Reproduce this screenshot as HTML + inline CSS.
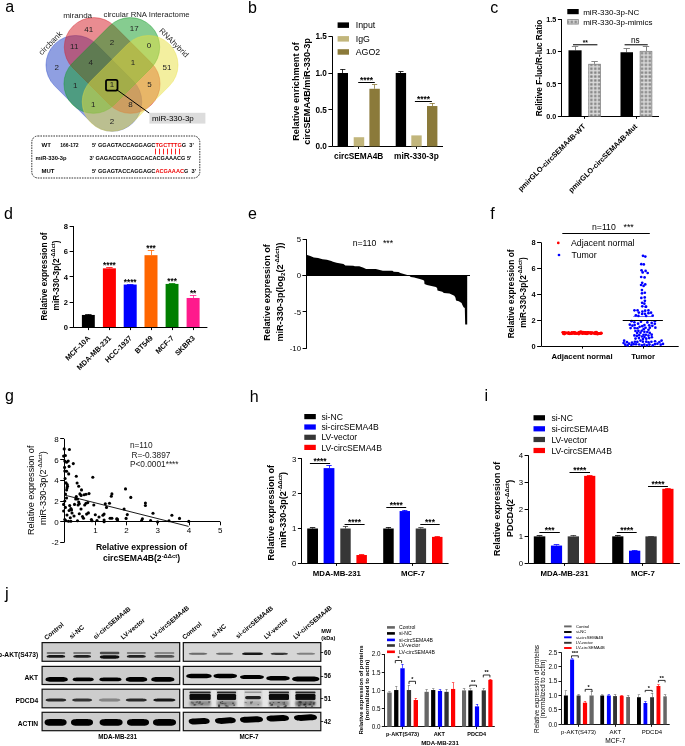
<!DOCTYPE html>
<html><head><meta charset="utf-8"><style>
html,body{margin:0;padding:0;background:#fff;}
svg{display:block;font-family:"Liberation Sans", sans-serif;filter:blur(0.35px);}
</style></head><body>
<svg width="685" height="746" viewBox="0 0 685 746" font-family='"Liberation Sans", sans-serif'>
<defs>
<pattern id="hatch" width="3.9" height="3.9" patternUnits="userSpaceOnUse"><rect width="3.9" height="3.9" fill="#dcdcdc"/><rect x="1.3" y="1.3" width="2.3" height="2.3" fill="#7a7a7a"/></pattern>
<filter id="b1" x="-20%" y="-100%" width="140%" height="300%"><feGaussianBlur stdDeviation="0.65"/></filter>
<filter id="b2" x="-20%" y="-100%" width="140%" height="300%"><feGaussianBlur stdDeviation="1.0"/></filter>
</defs>
<rect width="685" height="746" fill="#fff"/>
<text x="5.30" y="12.30" font-size="16" text-anchor="start" fill="#000">a</text>
<rect x="38.38" y="53.88" width="111.00" height="59.00" rx="29.5" ry="29.5" fill="#1f3fc4" fill-opacity="0.5" stroke="#1f3fc4" stroke-opacity="0.55" stroke-width="0.7" transform="rotate(45 93.88 83.38)"/>
<rect x="56.68" y="35.98" width="111.00" height="59.00" rx="29.5" ry="29.5" fill="#d41a24" fill-opacity="0.5" stroke="#d41a24" stroke-opacity="0.55" stroke-width="0.7" transform="rotate(45 112.18 65.48)"/>
<rect x="56.32" y="35.98" width="111.00" height="59.00" rx="29.5" ry="29.5" fill="#0d9a22" fill-opacity="0.5" stroke="#0d9a22" stroke-opacity="0.55" stroke-width="0.7" transform="rotate(135 111.82 65.48)"/>
<rect x="74.62" y="53.88" width="111.00" height="59.00" rx="29.5" ry="29.5" fill="#e8e040" fill-opacity="0.5" stroke="#e8e040" stroke-opacity="0.55" stroke-width="0.7" transform="rotate(135 130.12 83.38)"/>
<text x="88.80" y="31.50" font-size="8" text-anchor="middle" fill="#222">41</text>
<text x="134.20" y="30.70" font-size="8" text-anchor="middle" fill="#222">17</text>
<text x="74.20" y="48.80" font-size="8" text-anchor="middle" fill="#222">11</text>
<text x="111.90" y="44.90" font-size="8" text-anchor="middle" fill="#222">2</text>
<text x="149.10" y="47.60" font-size="8" text-anchor="middle" fill="#222">0</text>
<text x="56.80" y="69.70" font-size="8" text-anchor="middle" fill="#222">2</text>
<text x="90.80" y="65.00" font-size="8" text-anchor="middle" fill="#222">4</text>
<text x="133.00" y="65.00" font-size="8" text-anchor="middle" fill="#222">1</text>
<text x="167.00" y="69.70" font-size="8" text-anchor="middle" fill="#222">51</text>
<text x="75.20" y="87.80" font-size="8" text-anchor="middle" fill="#222">1</text>
<text x="111.90" y="86.50" font-size="8" text-anchor="middle" fill="#222">1</text>
<text x="149.60" y="86.50" font-size="8" text-anchor="middle" fill="#222">5</text>
<text x="93.30" y="106.90" font-size="8" text-anchor="middle" fill="#222">1</text>
<text x="130.50" y="106.90" font-size="8" text-anchor="middle" fill="#222">8</text>
<text x="111.90" y="124.30" font-size="8" text-anchor="middle" fill="#222">2</text>
<rect x="106" y="79.8" width="11.5" height="10.8" rx="1.6" fill="none" stroke="#000" stroke-width="1.8"/>
<line x1="116.50" y1="89.50" x2="149.40" y2="113.20" stroke="#000" stroke-width="1.0"/>
<rect x="149.40" y="112.80" width="56.00" height="10.80" fill="#dcdcdc"/>
<text x="152.00" y="121.20" font-size="8" text-anchor="start" fill="#000">miR-330-3p</text>
<text x="77.60" y="17.80" font-size="8" text-anchor="middle" fill="#222">miranda</text>
<text x="146.60" y="17.40" font-size="7.75" text-anchor="middle" fill="#222">circular RNA Interactome</text>
<text x="52.20" y="45.00" font-size="8" text-anchor="middle" fill="#222" transform="rotate(-45 52.20 45.00)">circbank</text>
<text x="172.20" y="44.60" font-size="7.8" text-anchor="middle" fill="#222" transform="rotate(45 172.20 44.60)">RNAhybrid</text>
<rect x="31.8" y="136" width="168" height="42" rx="6" fill="none" stroke="#000" stroke-width="0.8" stroke-dasharray="1.6,1.0"/>
<text x="41.50" y="146.50" font-size="6.1" font-weight="bold" text-anchor="start" fill="#000">WT</text>
<text x="60.30" y="146.50" font-size="5.0" font-weight="bold" text-anchor="start" fill="#000">166-172</text>
<text x="92.0" y="146.5" font-size="5.6" font-weight="bold">5' GGAGTACCAGGAGC<tspan fill="#e00">TGCTTTG</tspan>G<tspan dx="3.2">3'</tspan></text>
<line x1="155.50" y1="148.70" x2="155.50" y2="154.40" stroke="#f22" stroke-width="1.0"/>
<line x1="159.50" y1="148.70" x2="159.50" y2="154.40" stroke="#f22" stroke-width="1.0"/>
<line x1="163.50" y1="148.70" x2="163.50" y2="154.40" stroke="#f22" stroke-width="1.0"/>
<line x1="167.50" y1="148.70" x2="167.50" y2="154.40" stroke="#f22" stroke-width="1.0"/>
<line x1="171.50" y1="148.70" x2="171.50" y2="154.40" stroke="#f22" stroke-width="1.0"/>
<line x1="175.50" y1="148.70" x2="175.50" y2="154.40" stroke="#f22" stroke-width="1.0"/>
<line x1="179.50" y1="148.70" x2="179.50" y2="154.40" stroke="#f22" stroke-width="1.0"/>
<text x="35.50" y="159.60" font-size="5.75" font-weight="bold" text-anchor="start" fill="#000">miR-330-3p</text>
<text x="89.4" y="159.6" font-size="5.6" font-weight="bold">3' GAGACGTAAGGCACACGAAACG 5'</text>
<text x="41.50" y="173.30" font-size="6.0" font-weight="bold" text-anchor="start" fill="#000">MUT</text>
<text x="92.0" y="173.3" font-size="5.6" font-weight="bold">5' GGAGTACCAGGAGC<tspan fill="#e00">ACGAAAC</tspan>G<tspan dx="3.2">3'</tspan></text>
<text x="248.00" y="13.10" font-size="16" text-anchor="start" fill="#000">b</text>
<line x1="332.50" y1="36.30" x2="332.50" y2="146.40" stroke="#000" stroke-width="1.0"/>
<line x1="328.40" y1="146.50" x2="332.40" y2="146.50" stroke="#000" stroke-width="1.0"/>
<text x="326.80" y="149.35" font-size="8.2" font-weight="bold" text-anchor="end" fill="#000">0.0</text>
<line x1="328.40" y1="109.50" x2="332.40" y2="109.50" stroke="#000" stroke-width="1.0"/>
<text x="326.80" y="112.65" font-size="8.2" font-weight="bold" text-anchor="end" fill="#000">0.5</text>
<line x1="328.40" y1="73.50" x2="332.40" y2="73.50" stroke="#000" stroke-width="1.0"/>
<text x="326.80" y="75.95" font-size="8.2" font-weight="bold" text-anchor="end" fill="#000">1.0</text>
<line x1="328.40" y1="36.50" x2="332.40" y2="36.50" stroke="#000" stroke-width="1.0"/>
<text x="326.80" y="39.25" font-size="8.2" font-weight="bold" text-anchor="end" fill="#000">1.5</text>
<line x1="332.40" y1="146.50" x2="443.00" y2="146.50" stroke="#000" stroke-width="1.0"/>
<line x1="358.50" y1="146.40" x2="358.50" y2="148.90" stroke="#000" stroke-width="1.0"/>
<line x1="416.50" y1="146.40" x2="416.50" y2="148.90" stroke="#000" stroke-width="1.0"/>
<line x1="342.50" y1="73.00" x2="342.50" y2="69.33" stroke="#000" stroke-width="0.8"/>
<line x1="340.20" y1="69.50" x2="345.40" y2="69.50" stroke="#000" stroke-width="0.8"/>
<rect x="337.60" y="73.00" width="10.40" height="73.40" fill="#000"/>
<rect x="353.70" y="137.22" width="10.50" height="9.18" fill="#c2b67c"/>
<line x1="374.50" y1="88.78" x2="374.50" y2="84.38" stroke="#8b7a3a" stroke-width="0.8"/>
<line x1="372.00" y1="84.50" x2="377.20" y2="84.50" stroke="#8b7a3a" stroke-width="0.8"/>
<rect x="369.40" y="88.78" width="10.40" height="57.62" fill="#8b7a3a"/>
<line x1="400.50" y1="73.00" x2="400.50" y2="71.53" stroke="#000" stroke-width="0.8"/>
<line x1="398.30" y1="71.50" x2="403.50" y2="71.50" stroke="#000" stroke-width="0.8"/>
<rect x="395.70" y="73.00" width="10.40" height="73.40" fill="#000"/>
<rect x="411.30" y="135.39" width="10.40" height="11.01" fill="#c2b67c"/>
<line x1="432.50" y1="106.03" x2="432.50" y2="103.09" stroke="#8b7a3a" stroke-width="0.8"/>
<line x1="429.60" y1="103.50" x2="434.80" y2="103.50" stroke="#8b7a3a" stroke-width="0.8"/>
<rect x="427.00" y="106.03" width="10.40" height="40.37" fill="#8b7a3a"/>
<line x1="358.20" y1="82.50" x2="374.80" y2="82.50" stroke="#000" stroke-width="1.0"/>
<text x="366.50" y="83.10" font-size="8.4" font-weight="bold" text-anchor="middle" fill="#000">****</text>
<line x1="414.90" y1="101.50" x2="431.90" y2="101.50" stroke="#000" stroke-width="1.0"/>
<text x="423.40" y="101.80" font-size="8.4" font-weight="bold" text-anchor="middle" fill="#000">****</text>
<rect x="337.60" y="22.40" width="11.40" height="5.50" fill="#000"/>
<text x="355.70" y="28.20" font-size="8.8" text-anchor="start" fill="#000">Input</text>
<rect x="337.60" y="36.10" width="11.40" height="5.50" fill="#c2b67c"/>
<text x="355.70" y="41.90" font-size="8.8" text-anchor="start" fill="#000">IgG</text>
<rect x="337.60" y="49.20" width="11.40" height="5.50" fill="#8b7a3a"/>
<text x="355.70" y="55.00" font-size="8.8" text-anchor="start" fill="#000">AGO2</text>
<text x="358.70" y="158.80" font-size="8.3" font-weight="bold" text-anchor="middle" fill="#000">circSEMA4B</text>
<text x="416.40" y="158.80" font-size="8.3" font-weight="bold" text-anchor="middle" fill="#000">miR-330-3p</text>
<text x="299.00" y="91.50" font-size="9.2" font-weight="bold" text-anchor="middle" fill="#000" transform="rotate(-90 299.00 91.50)">Relative enrichment of</text>
<text x="310.00" y="91.50" font-size="9.2" font-weight="bold" text-anchor="middle" fill="#000" transform="rotate(-90 310.00 91.50)">circSEMA4B/miR-330-3p</text>
<text x="490.30" y="12.80" font-size="16" text-anchor="start" fill="#000">c</text>
<line x1="561.50" y1="19.25" x2="561.50" y2="116.30" stroke="#000" stroke-width="1.0"/>
<line x1="557.90" y1="116.50" x2="561.90" y2="116.50" stroke="#000" stroke-width="1.0"/>
<text x="556.30" y="118.89" font-size="7.2" font-weight="bold" text-anchor="end" fill="#000">0.0</text>
<line x1="557.90" y1="83.50" x2="561.90" y2="83.50" stroke="#000" stroke-width="1.0"/>
<text x="556.30" y="86.54" font-size="7.2" font-weight="bold" text-anchor="end" fill="#000">0.5</text>
<line x1="557.90" y1="51.50" x2="561.90" y2="51.50" stroke="#000" stroke-width="1.0"/>
<text x="556.30" y="54.19" font-size="7.2" font-weight="bold" text-anchor="end" fill="#000">1.0</text>
<line x1="557.90" y1="19.50" x2="561.90" y2="19.50" stroke="#000" stroke-width="1.0"/>
<text x="556.30" y="21.84" font-size="7.2" font-weight="bold" text-anchor="end" fill="#000">1.5</text>
<line x1="561.90" y1="116.50" x2="659.00" y2="116.50" stroke="#000" stroke-width="1.0"/>
<line x1="584.50" y1="116.30" x2="584.50" y2="118.80" stroke="#000" stroke-width="1.0"/>
<line x1="636.50" y1="116.30" x2="636.50" y2="118.80" stroke="#000" stroke-width="1.0"/>
<line x1="575.50" y1="46.42" x2="575.50" y2="50.31" stroke="#777" stroke-width="0.9"/>
<line x1="571.85" y1="46.50" x2="578.25" y2="46.50" stroke="#777" stroke-width="0.9"/>
<rect x="568.50" y="50.31" width="13.10" height="65.99" fill="#000"/>
<line x1="594.50" y1="61.95" x2="594.50" y2="63.89" stroke="#777" stroke-width="0.9"/>
<line x1="591.40" y1="61.50" x2="597.80" y2="61.50" stroke="#777" stroke-width="0.9"/>
<rect x="588.40" y="63.89" width="12.40" height="52.41" fill="url(#hatch)"/>
<rect x="588.80" y="64.29" width="11.60" height="52.01" fill="none" stroke="#8a8a8a" stroke-width="0.8"/>
<line x1="626.50" y1="48.36" x2="626.50" y2="52.25" stroke="#777" stroke-width="0.9"/>
<line x1="623.55" y1="48.50" x2="629.95" y2="48.50" stroke="#777" stroke-width="0.9"/>
<rect x="620.50" y="52.25" width="12.50" height="64.05" fill="#000"/>
<line x1="646.50" y1="46.10" x2="646.50" y2="50.95" stroke="#777" stroke-width="0.9"/>
<line x1="642.80" y1="46.50" x2="649.20" y2="46.50" stroke="#777" stroke-width="0.9"/>
<rect x="639.80" y="50.95" width="12.40" height="65.35" fill="url(#hatch)"/>
<rect x="640.20" y="51.35" width="11.60" height="64.95" fill="none" stroke="#8a8a8a" stroke-width="0.8"/>
<line x1="573.0" y1="44.7" x2="597.4" y2="44.7" stroke="#444" stroke-width="1.4"/>
<text x="585.20" y="44.60" font-size="6.6" font-weight="bold" text-anchor="middle" fill="#000">**</text>
<line x1="624.6" y1="44.7" x2="647.7" y2="44.7" stroke="#444" stroke-width="1.4"/>
<text x="635.30" y="42.60" font-size="8.3" text-anchor="middle" fill="#000">ns</text>
<rect x="567.30" y="9.00" width="11.40" height="5.20" fill="#000"/>
<text x="583.20" y="14.60" font-size="8.0" text-anchor="start" fill="#000">miR-330-3p-NC</text>
<rect x="567.30" y="19.20" width="11.40" height="5.20" fill="url(#hatch)"/>
<rect x="567.7" y="19.6" width="10.6" height="4.4" fill="none" stroke="#8a8a8a" stroke-width="0.8"/>
<text x="583.20" y="24.80" font-size="8.0" text-anchor="start" fill="#000">miR-330-3p-mimics</text>
<text x="542.00" y="68.00" font-size="8.2" font-weight="bold" text-anchor="middle" fill="#000" transform="rotate(-90 542.00 68.00)">Relitive F-luc/R-luc Ratio</text>
<text x="586.00" y="126.90" font-size="7.35" font-weight="bold" text-anchor="end" fill="#000" transform="rotate(-45 586.00 126.90)">pmirGLO-circSEMA4B-WT</text>
<text x="637.70" y="126.90" font-size="7.35" font-weight="bold" text-anchor="end" fill="#000" transform="rotate(-45 637.70 126.90)">pmirGLO-circSEMA4B-Mut</text>
<text x="4.00" y="219.20" font-size="16" text-anchor="start" fill="#000">d</text>
<line x1="73.50" y1="226.32" x2="73.50" y2="327.60" stroke="#000" stroke-width="1.0"/>
<line x1="69.60" y1="327.50" x2="73.90" y2="327.50" stroke="#000" stroke-width="1.0"/>
<text x="68.00" y="330.34" font-size="7.6" font-weight="bold" text-anchor="end" fill="#000">0</text>
<line x1="69.60" y1="302.50" x2="73.90" y2="302.50" stroke="#000" stroke-width="1.0"/>
<text x="68.00" y="305.02" font-size="7.6" font-weight="bold" text-anchor="end" fill="#000">2</text>
<line x1="69.60" y1="276.50" x2="73.90" y2="276.50" stroke="#000" stroke-width="1.0"/>
<text x="68.00" y="279.70" font-size="7.6" font-weight="bold" text-anchor="end" fill="#000">4</text>
<line x1="69.60" y1="251.50" x2="73.90" y2="251.50" stroke="#000" stroke-width="1.0"/>
<text x="68.00" y="254.38" font-size="7.6" font-weight="bold" text-anchor="end" fill="#000">6</text>
<line x1="69.60" y1="226.50" x2="73.90" y2="226.50" stroke="#000" stroke-width="1.0"/>
<text x="68.00" y="229.06" font-size="7.6" font-weight="bold" text-anchor="end" fill="#000">8</text>
<line x1="88.50" y1="314.94" x2="88.50" y2="314.31" stroke="#000" stroke-width="0.8"/>
<line x1="85.12" y1="314.50" x2="91.57" y2="314.50" stroke="#000" stroke-width="0.8"/>
<rect x="81.90" y="314.94" width="12.90" height="12.66" fill="#000"/>
<line x1="109.50" y1="268.35" x2="109.50" y2="267.84" stroke="#ff0000" stroke-width="0.8"/>
<line x1="106.15" y1="267.50" x2="112.65" y2="267.50" stroke="#ff0000" stroke-width="0.8"/>
<rect x="102.90" y="268.35" width="13.00" height="59.25" fill="#ff0000"/>
<text x="109.40" y="268.24" font-size="8.2" font-weight="bold" text-anchor="middle" fill="#000">****</text>
<line x1="130.50" y1="284.56" x2="130.50" y2="284.18" stroke="#0000ff" stroke-width="0.8"/>
<line x1="126.95" y1="284.50" x2="133.45" y2="284.50" stroke="#0000ff" stroke-width="0.8"/>
<rect x="123.70" y="284.56" width="13.00" height="43.04" fill="#0000ff"/>
<text x="130.20" y="284.58" font-size="8.2" font-weight="bold" text-anchor="middle" fill="#000">****</text>
<line x1="151.50" y1="255.18" x2="151.50" y2="250.37" stroke="#ff6600" stroke-width="0.8"/>
<line x1="147.75" y1="250.50" x2="154.25" y2="250.50" stroke="#ff6600" stroke-width="0.8"/>
<rect x="144.50" y="255.18" width="13.00" height="72.42" fill="#ff6600"/>
<text x="151.00" y="250.77" font-size="8.2" font-weight="bold" text-anchor="middle" fill="#000">***</text>
<line x1="172.50" y1="283.92" x2="172.50" y2="283.54" stroke="#007f00" stroke-width="0.8"/>
<line x1="168.83" y1="283.50" x2="175.28" y2="283.50" stroke="#007f00" stroke-width="0.8"/>
<rect x="165.60" y="283.92" width="12.90" height="43.68" fill="#007f00"/>
<text x="172.05" y="283.94" font-size="8.2" font-weight="bold" text-anchor="middle" fill="#000">***</text>
<line x1="193.50" y1="297.98" x2="193.50" y2="295.32" stroke="#ff1a8c" stroke-width="0.8"/>
<line x1="189.85" y1="295.50" x2="196.35" y2="295.50" stroke="#ff1a8c" stroke-width="0.8"/>
<rect x="186.60" y="297.98" width="13.00" height="29.62" fill="#ff1a8c"/>
<text x="193.10" y="295.72" font-size="8.2" font-weight="bold" text-anchor="middle" fill="#000">**</text>
<line x1="73.90" y1="327.50" x2="207.40" y2="327.50" stroke="#000" stroke-width="1.0"/>
<line x1="88.50" y1="327.60" x2="88.50" y2="330.10" stroke="#000" stroke-width="1.0"/>
<line x1="109.50" y1="327.60" x2="109.50" y2="330.10" stroke="#000" stroke-width="1.0"/>
<line x1="130.50" y1="327.60" x2="130.50" y2="330.10" stroke="#000" stroke-width="1.0"/>
<line x1="151.50" y1="327.60" x2="151.50" y2="330.10" stroke="#000" stroke-width="1.0"/>
<line x1="172.50" y1="327.60" x2="172.50" y2="330.10" stroke="#000" stroke-width="1.0"/>
<line x1="193.50" y1="327.60" x2="193.50" y2="330.10" stroke="#000" stroke-width="1.0"/>
<text x="90.65" y="338.60" font-size="7.3" font-weight="bold" text-anchor="end" fill="#000" transform="rotate(-45 90.65 338.60)">MCF-10A</text>
<text x="111.70" y="338.60" font-size="7.3" font-weight="bold" text-anchor="end" fill="#000" transform="rotate(-45 111.70 338.60)">MDA-MB-231</text>
<text x="132.50" y="338.60" font-size="7.3" font-weight="bold" text-anchor="end" fill="#000" transform="rotate(-45 132.50 338.60)">HCC-1937</text>
<text x="153.30" y="338.60" font-size="7.3" font-weight="bold" text-anchor="end" fill="#000" transform="rotate(-45 153.30 338.60)">BT549</text>
<text x="174.35" y="338.60" font-size="7.3" font-weight="bold" text-anchor="end" fill="#000" transform="rotate(-45 174.35 338.60)">MCF-7</text>
<text x="195.40" y="338.60" font-size="7.3" font-weight="bold" text-anchor="end" fill="#000" transform="rotate(-45 195.40 338.60)">SKBR3</text>
<text x="46.80" y="276.40" font-size="8.3" font-weight="bold" text-anchor="middle" fill="#000" transform="rotate(-90 46.80 276.40)">Relative expression of</text>
<text x="59.20" y="275.50" font-size="8.3" font-weight="bold" text-anchor="middle" transform="rotate(-90 59.20 275.50)">miR-330-3p(2<tspan font-size="5.64" dy="-3.74">-ΔΔct</tspan><tspan dy="3.74">)</tspan></text>
<text x="248.00" y="218.70" font-size="16" text-anchor="start" fill="#000">e</text>
<line x1="306.50" y1="239.25" x2="306.50" y2="348.30" stroke="#000" stroke-width="1.0"/>
<line x1="302.60" y1="239.50" x2="306.90" y2="239.50" stroke="#000" stroke-width="1.0"/>
<text x="301.00" y="242.06" font-size="7.8" text-anchor="end" fill="#000">5</text>
<line x1="302.60" y1="275.50" x2="306.90" y2="275.50" stroke="#000" stroke-width="1.0"/>
<text x="301.00" y="278.41" font-size="7.8" text-anchor="end" fill="#000">0</text>
<line x1="302.60" y1="311.50" x2="306.90" y2="311.50" stroke="#000" stroke-width="1.0"/>
<text x="301.00" y="314.76" font-size="7.8" text-anchor="end" fill="#000">-5</text>
<line x1="302.60" y1="348.50" x2="306.90" y2="348.50" stroke="#000" stroke-width="1.0"/>
<text x="301.00" y="351.11" font-size="7.8" text-anchor="end" fill="#000">-10</text>
<polygon fill="#000" points="306.9,275.6 306.9,255.1 307.2,255.1 310.3,256.1 313.8,257.4 318.1,257.9 322.5,259.2 326.9,259.8 331.3,260.9 333.0,261.8 336.5,262.7 343.5,264.0 345.3,265.6 353.2,265.8 354.9,266.2 359.3,266.2 363.5,267.7 366.1,269.0 375.8,269.0 382.8,270.8 392.4,270.8 393.7,271.8 398.5,272.1 400.3,273.1 409.0,275.4 410.8,277.1 414.3,277.5 415.0,277.8 419.8,279.1 423.0,279.9 424.2,280.8 424.5,284.0 427.0,285.1 435.9,286.9 437.1,288.1 437.5,290.6 442.3,291.7 443.9,292.9 449.5,293.5 454.3,295.7 455.5,297.7 456.0,300.5 458.8,301.3 461.6,302.9 462.4,304.9 463.6,307.3 464.8,308.1 465.2,324.6 467.2,324.6 467.2,275.6"/>
<line x1="302.60" y1="275.50" x2="470.00" y2="275.50" stroke="#000" stroke-width="1.0"/>
<text x="352.70" y="245.60" font-size="8.7" text-anchor="start" fill="#000">n=110</text>
<text x="382.90" y="245.60" font-size="8.7" text-anchor="start" fill="#000">***</text>
<text x="269.60" y="292.40" font-size="9.1" font-weight="bold" text-anchor="middle" fill="#000" transform="rotate(-90 269.60 292.40)">Relative expression of</text>
<text x="283" y="292.0" font-size="9.1" font-weight="bold" text-anchor="middle" transform="rotate(-90 283 292.0)">miR-330-3p(log<tspan font-size="6.01" dy="1.82">2</tspan><tspan dy="-1.82">(2</tspan><tspan font-size="6.01" dy="-4.09">-ΔΔct</tspan><tspan dy="4.09">))</tspan></text>
<text x="490.30" y="219.20" font-size="16" text-anchor="start" fill="#000">f</text>
<line x1="541.50" y1="242.66" x2="541.50" y2="346.10" stroke="#000" stroke-width="1.0"/>
<line x1="537.10" y1="346.50" x2="541.40" y2="346.50" stroke="#000" stroke-width="1.0"/>
<text x="535.50" y="348.76" font-size="7.4" font-weight="bold" text-anchor="end" fill="#000">0</text>
<line x1="537.10" y1="320.50" x2="541.40" y2="320.50" stroke="#000" stroke-width="1.0"/>
<text x="535.50" y="322.90" font-size="7.4" font-weight="bold" text-anchor="end" fill="#000">2</text>
<line x1="537.10" y1="294.50" x2="541.40" y2="294.50" stroke="#000" stroke-width="1.0"/>
<text x="535.50" y="297.04" font-size="7.4" font-weight="bold" text-anchor="end" fill="#000">4</text>
<line x1="537.10" y1="268.50" x2="541.40" y2="268.50" stroke="#000" stroke-width="1.0"/>
<text x="535.50" y="271.18" font-size="7.4" font-weight="bold" text-anchor="end" fill="#000">6</text>
<line x1="537.10" y1="242.50" x2="541.40" y2="242.50" stroke="#000" stroke-width="1.0"/>
<text x="535.50" y="245.32" font-size="7.4" font-weight="bold" text-anchor="end" fill="#000">8</text>
<line x1="541.40" y1="346.50" x2="678.70" y2="346.50" stroke="#000" stroke-width="1.0"/>
<line x1="582.50" y1="346.10" x2="582.50" y2="348.60" stroke="#000" stroke-width="1.0"/>
<line x1="643.50" y1="346.10" x2="643.50" y2="348.60" stroke="#000" stroke-width="1.0"/>
<circle cx="571.78" cy="333.59" r="1.35" fill="#ff0000"/>
<circle cx="586.05" cy="333.29" r="1.35" fill="#ff0000"/>
<circle cx="586.90" cy="333.10" r="1.35" fill="#ff0000"/>
<circle cx="595.16" cy="333.14" r="1.35" fill="#ff0000"/>
<circle cx="572.61" cy="333.02" r="1.35" fill="#ff0000"/>
<circle cx="580.84" cy="331.68" r="1.35" fill="#ff0000"/>
<circle cx="595.12" cy="333.81" r="1.35" fill="#ff0000"/>
<circle cx="568.37" cy="333.07" r="1.35" fill="#ff0000"/>
<circle cx="587.26" cy="332.80" r="1.35" fill="#ff0000"/>
<circle cx="591.41" cy="333.58" r="1.35" fill="#ff0000"/>
<circle cx="588.69" cy="332.47" r="1.35" fill="#ff0000"/>
<circle cx="585.55" cy="332.87" r="1.35" fill="#ff0000"/>
<circle cx="574.25" cy="332.28" r="1.35" fill="#ff0000"/>
<circle cx="580.94" cy="332.99" r="1.35" fill="#ff0000"/>
<circle cx="590.53" cy="332.65" r="1.35" fill="#ff0000"/>
<circle cx="598.42" cy="333.66" r="1.35" fill="#ff0000"/>
<circle cx="577.90" cy="333.02" r="1.35" fill="#ff0000"/>
<circle cx="598.99" cy="333.64" r="1.35" fill="#ff0000"/>
<circle cx="596.78" cy="332.97" r="1.35" fill="#ff0000"/>
<circle cx="570.96" cy="333.03" r="1.35" fill="#ff0000"/>
<circle cx="600.15" cy="333.75" r="1.35" fill="#ff0000"/>
<circle cx="574.24" cy="332.92" r="1.35" fill="#ff0000"/>
<circle cx="582.28" cy="333.49" r="1.35" fill="#ff0000"/>
<circle cx="585.32" cy="332.89" r="1.35" fill="#ff0000"/>
<circle cx="585.29" cy="332.61" r="1.35" fill="#ff0000"/>
<circle cx="598.73" cy="333.56" r="1.35" fill="#ff0000"/>
<circle cx="595.90" cy="332.50" r="1.35" fill="#ff0000"/>
<circle cx="568.86" cy="333.21" r="1.35" fill="#ff0000"/>
<circle cx="596.06" cy="332.21" r="1.35" fill="#ff0000"/>
<circle cx="584.70" cy="333.39" r="1.35" fill="#ff0000"/>
<circle cx="590.34" cy="332.96" r="1.35" fill="#ff0000"/>
<circle cx="584.87" cy="332.34" r="1.35" fill="#ff0000"/>
<circle cx="573.61" cy="332.35" r="1.35" fill="#ff0000"/>
<circle cx="601.10" cy="332.83" r="1.35" fill="#ff0000"/>
<circle cx="565.95" cy="333.02" r="1.35" fill="#ff0000"/>
<circle cx="568.38" cy="333.61" r="1.35" fill="#ff0000"/>
<circle cx="573.96" cy="333.06" r="1.35" fill="#ff0000"/>
<circle cx="564.22" cy="334.08" r="1.35" fill="#ff0000"/>
<circle cx="586.47" cy="332.48" r="1.35" fill="#ff0000"/>
<circle cx="575.41" cy="332.97" r="1.35" fill="#ff0000"/>
<circle cx="596.86" cy="332.64" r="1.35" fill="#ff0000"/>
<circle cx="601.44" cy="333.24" r="1.35" fill="#ff0000"/>
<circle cx="574.58" cy="332.63" r="1.35" fill="#ff0000"/>
<circle cx="563.72" cy="332.89" r="1.35" fill="#ff0000"/>
<circle cx="570.20" cy="333.69" r="1.35" fill="#ff0000"/>
<circle cx="568.59" cy="332.83" r="1.35" fill="#ff0000"/>
<circle cx="564.15" cy="332.91" r="1.35" fill="#ff0000"/>
<circle cx="599.89" cy="333.46" r="1.35" fill="#ff0000"/>
<circle cx="597.47" cy="333.53" r="1.35" fill="#ff0000"/>
<circle cx="582.78" cy="332.82" r="1.35" fill="#ff0000"/>
<circle cx="587.61" cy="333.65" r="1.35" fill="#ff0000"/>
<circle cx="586.68" cy="333.50" r="1.35" fill="#ff0000"/>
<circle cx="599.18" cy="333.65" r="1.35" fill="#ff0000"/>
<circle cx="590.59" cy="333.19" r="1.35" fill="#ff0000"/>
<circle cx="571.77" cy="333.56" r="1.35" fill="#ff0000"/>
<circle cx="582.82" cy="331.98" r="1.35" fill="#ff0000"/>
<circle cx="583.89" cy="332.70" r="1.35" fill="#ff0000"/>
<circle cx="585.12" cy="333.14" r="1.35" fill="#ff0000"/>
<circle cx="563.28" cy="333.65" r="1.35" fill="#ff0000"/>
<circle cx="564.84" cy="333.60" r="1.35" fill="#ff0000"/>
<circle cx="586.97" cy="333.84" r="1.35" fill="#ff0000"/>
<circle cx="576.25" cy="333.03" r="1.35" fill="#ff0000"/>
<circle cx="590.07" cy="333.18" r="1.35" fill="#ff0000"/>
<circle cx="564.86" cy="333.27" r="1.35" fill="#ff0000"/>
<circle cx="588.86" cy="332.83" r="1.35" fill="#ff0000"/>
<circle cx="580.30" cy="333.25" r="1.35" fill="#ff0000"/>
<circle cx="585.61" cy="333.35" r="1.35" fill="#ff0000"/>
<circle cx="574.69" cy="332.78" r="1.35" fill="#ff0000"/>
<circle cx="576.90" cy="333.49" r="1.35" fill="#ff0000"/>
<circle cx="577.21" cy="333.39" r="1.35" fill="#ff0000"/>
<circle cx="592.62" cy="332.59" r="1.35" fill="#ff0000"/>
<circle cx="591.17" cy="333.07" r="1.35" fill="#ff0000"/>
<circle cx="574.59" cy="333.03" r="1.35" fill="#ff0000"/>
<circle cx="571.81" cy="332.37" r="1.35" fill="#ff0000"/>
<circle cx="569.81" cy="333.81" r="1.35" fill="#ff0000"/>
<circle cx="566.47" cy="332.89" r="1.35" fill="#ff0000"/>
<circle cx="575.06" cy="333.60" r="1.35" fill="#ff0000"/>
<circle cx="579.60" cy="332.43" r="1.35" fill="#ff0000"/>
<circle cx="595.87" cy="332.97" r="1.35" fill="#ff0000"/>
<circle cx="587.86" cy="332.81" r="1.35" fill="#ff0000"/>
<circle cx="597.01" cy="333.48" r="1.35" fill="#ff0000"/>
<circle cx="567.22" cy="333.07" r="1.35" fill="#ff0000"/>
<circle cx="583.16" cy="332.87" r="1.35" fill="#ff0000"/>
<circle cx="595.20" cy="332.41" r="1.35" fill="#ff0000"/>
<circle cx="569.66" cy="333.32" r="1.35" fill="#ff0000"/>
<circle cx="587.54" cy="332.36" r="1.35" fill="#ff0000"/>
<circle cx="593.94" cy="333.30" r="1.35" fill="#ff0000"/>
<circle cx="573.89" cy="332.97" r="1.35" fill="#ff0000"/>
<circle cx="593.46" cy="333.23" r="1.35" fill="#ff0000"/>
<circle cx="578.76" cy="332.76" r="1.35" fill="#ff0000"/>
<circle cx="578.87" cy="334.03" r="1.35" fill="#ff0000"/>
<circle cx="568.58" cy="332.62" r="1.35" fill="#ff0000"/>
<circle cx="562.68" cy="332.30" r="1.35" fill="#ff0000"/>
<circle cx="600.99" cy="333.50" r="1.35" fill="#ff0000"/>
<circle cx="579.44" cy="332.18" r="1.35" fill="#ff0000"/>
<circle cx="571.16" cy="333.49" r="1.35" fill="#ff0000"/>
<circle cx="591.58" cy="332.82" r="1.35" fill="#ff0000"/>
<circle cx="582.74" cy="333.74" r="1.35" fill="#ff0000"/>
<circle cx="573.77" cy="333.35" r="1.35" fill="#ff0000"/>
<circle cx="565.15" cy="332.90" r="1.35" fill="#ff0000"/>
<circle cx="585.46" cy="333.36" r="1.35" fill="#ff0000"/>
<circle cx="564.26" cy="332.37" r="1.35" fill="#ff0000"/>
<circle cx="597.74" cy="333.53" r="1.35" fill="#ff0000"/>
<circle cx="597.47" cy="334.13" r="1.35" fill="#ff0000"/>
<circle cx="597.59" cy="333.24" r="1.35" fill="#ff0000"/>
<circle cx="591.57" cy="333.20" r="1.35" fill="#ff0000"/>
<circle cx="569.20" cy="333.38" r="1.35" fill="#ff0000"/>
<circle cx="582.97" cy="332.54" r="1.35" fill="#ff0000"/>
<circle cx="578.64" cy="332.59" r="1.35" fill="#ff0000"/>
<circle cx="575.81" cy="333.40" r="1.35" fill="#ff0000"/>
<circle cx="642.99" cy="255.81" r="1.35" fill="#0000ff"/>
<circle cx="645.32" cy="256.54" r="1.35" fill="#0000ff"/>
<circle cx="643.82" cy="264.47" r="1.35" fill="#0000ff"/>
<circle cx="641.32" cy="264.18" r="1.35" fill="#0000ff"/>
<circle cx="642.66" cy="272.45" r="1.35" fill="#0000ff"/>
<circle cx="647.68" cy="272.98" r="1.35" fill="#0000ff"/>
<circle cx="641.54" cy="270.30" r="1.35" fill="#0000ff"/>
<circle cx="645.60" cy="270.90" r="1.35" fill="#0000ff"/>
<circle cx="644.59" cy="277.47" r="1.35" fill="#0000ff"/>
<circle cx="641.20" cy="277.02" r="1.35" fill="#0000ff"/>
<circle cx="645.25" cy="284.38" r="1.35" fill="#0000ff"/>
<circle cx="641.07" cy="285.02" r="1.35" fill="#0000ff"/>
<circle cx="642.18" cy="282.79" r="1.35" fill="#0000ff"/>
<circle cx="643.57" cy="285.97" r="1.35" fill="#0000ff"/>
<circle cx="641.93" cy="290.12" r="1.35" fill="#0000ff"/>
<circle cx="644.83" cy="292.77" r="1.35" fill="#0000ff"/>
<circle cx="641.99" cy="293.30" r="1.35" fill="#0000ff"/>
<circle cx="644.73" cy="297.41" r="1.35" fill="#0000ff"/>
<circle cx="641.35" cy="297.94" r="1.35" fill="#0000ff"/>
<circle cx="642.15" cy="302.82" r="1.35" fill="#0000ff"/>
<circle cx="644.87" cy="300.82" r="1.35" fill="#0000ff"/>
<circle cx="644.37" cy="303.66" r="1.35" fill="#0000ff"/>
<circle cx="642.31" cy="306.37" r="1.35" fill="#0000ff"/>
<circle cx="645.61" cy="306.74" r="1.35" fill="#0000ff"/>
<circle cx="646.07" cy="306.63" r="1.35" fill="#0000ff"/>
<circle cx="645.17" cy="310.69" r="1.35" fill="#0000ff"/>
<circle cx="637.57" cy="310.31" r="1.35" fill="#0000ff"/>
<circle cx="642.11" cy="314.01" r="1.35" fill="#0000ff"/>
<circle cx="642.36" cy="311.57" r="1.35" fill="#0000ff"/>
<circle cx="648.48" cy="313.18" r="1.35" fill="#0000ff"/>
<circle cx="652.66" cy="315.72" r="1.35" fill="#0000ff"/>
<circle cx="635.86" cy="315.36" r="1.35" fill="#0000ff"/>
<circle cx="644.94" cy="313.80" r="1.35" fill="#0000ff"/>
<circle cx="638.43" cy="315.88" r="1.35" fill="#0000ff"/>
<circle cx="634.45" cy="310.36" r="1.35" fill="#0000ff"/>
<circle cx="638.85" cy="312.55" r="1.35" fill="#0000ff"/>
<circle cx="646.12" cy="315.94" r="1.35" fill="#0000ff"/>
<circle cx="648.43" cy="310.46" r="1.35" fill="#0000ff"/>
<circle cx="651.05" cy="312.63" r="1.35" fill="#0000ff"/>
<circle cx="651.69" cy="322.94" r="1.35" fill="#0000ff"/>
<circle cx="638.09" cy="323.70" r="1.35" fill="#0000ff"/>
<circle cx="655.37" cy="327.66" r="1.35" fill="#0000ff"/>
<circle cx="634.66" cy="325.01" r="1.35" fill="#0000ff"/>
<circle cx="629.82" cy="324.63" r="1.35" fill="#0000ff"/>
<circle cx="644.44" cy="325.04" r="1.35" fill="#0000ff"/>
<circle cx="631.55" cy="321.15" r="1.35" fill="#0000ff"/>
<circle cx="649.84" cy="327.69" r="1.35" fill="#0000ff"/>
<circle cx="647.37" cy="322.46" r="1.35" fill="#0000ff"/>
<circle cx="654.82" cy="323.78" r="1.35" fill="#0000ff"/>
<circle cx="652.33" cy="325.83" r="1.35" fill="#0000ff"/>
<circle cx="640.97" cy="321.67" r="1.35" fill="#0000ff"/>
<circle cx="637.38" cy="328.26" r="1.35" fill="#0000ff"/>
<circle cx="632.41" cy="325.68" r="1.35" fill="#0000ff"/>
<circle cx="645.55" cy="327.77" r="1.35" fill="#0000ff"/>
<circle cx="634.37" cy="322.24" r="1.35" fill="#0000ff"/>
<circle cx="630.59" cy="328.08" r="1.35" fill="#0000ff"/>
<circle cx="639.60" cy="326.87" r="1.35" fill="#0000ff"/>
<circle cx="649.17" cy="325.35" r="1.35" fill="#0000ff"/>
<circle cx="654.87" cy="321.23" r="1.35" fill="#0000ff"/>
<circle cx="642.28" cy="326.22" r="1.35" fill="#0000ff"/>
<circle cx="634.72" cy="328.06" r="1.35" fill="#0000ff"/>
<circle cx="644.42" cy="331.79" r="1.35" fill="#0000ff"/>
<circle cx="640.47" cy="332.72" r="1.35" fill="#0000ff"/>
<circle cx="637.18" cy="332.89" r="1.35" fill="#0000ff"/>
<circle cx="649.75" cy="332.97" r="1.35" fill="#0000ff"/>
<circle cx="648.49" cy="329.74" r="1.35" fill="#0000ff"/>
<circle cx="638.39" cy="330.87" r="1.35" fill="#0000ff"/>
<circle cx="647.33" cy="332.01" r="1.35" fill="#0000ff"/>
<circle cx="641.74" cy="330.74" r="1.35" fill="#0000ff"/>
<circle cx="643.69" cy="329.18" r="1.35" fill="#0000ff"/>
<circle cx="635.48" cy="330.98" r="1.35" fill="#0000ff"/>
<circle cx="642.02" cy="336.49" r="1.35" fill="#0000ff"/>
<circle cx="638.93" cy="338.09" r="1.35" fill="#0000ff"/>
<circle cx="635.51" cy="338.58" r="1.35" fill="#0000ff"/>
<circle cx="644.44" cy="336.94" r="1.35" fill="#0000ff"/>
<circle cx="648.45" cy="335.57" r="1.35" fill="#0000ff"/>
<circle cx="636.83" cy="335.90" r="1.35" fill="#0000ff"/>
<circle cx="649.16" cy="338.04" r="1.35" fill="#0000ff"/>
<circle cx="651.67" cy="334.69" r="1.35" fill="#0000ff"/>
<circle cx="651.86" cy="337.25" r="1.35" fill="#0000ff"/>
<circle cx="645.90" cy="334.76" r="1.35" fill="#0000ff"/>
<circle cx="643.55" cy="334.75" r="1.35" fill="#0000ff"/>
<circle cx="646.27" cy="338.64" r="1.35" fill="#0000ff"/>
<circle cx="639.24" cy="335.21" r="1.35" fill="#0000ff"/>
<circle cx="642.90" cy="338.99" r="1.35" fill="#0000ff"/>
<circle cx="634.39" cy="335.45" r="1.35" fill="#0000ff"/>
<circle cx="661.57" cy="340.56" r="1.35" fill="#0000ff"/>
<circle cx="644.29" cy="344.55" r="1.35" fill="#0000ff"/>
<circle cx="654.89" cy="344.18" r="1.35" fill="#0000ff"/>
<circle cx="639.17" cy="344.52" r="1.35" fill="#0000ff"/>
<circle cx="651.41" cy="341.75" r="1.35" fill="#0000ff"/>
<circle cx="646.27" cy="341.64" r="1.35" fill="#0000ff"/>
<circle cx="649.48" cy="344.55" r="1.35" fill="#0000ff"/>
<circle cx="637.36" cy="341.90" r="1.35" fill="#0000ff"/>
<circle cx="659.41" cy="342.11" r="1.35" fill="#0000ff"/>
<circle cx="626.97" cy="342.17" r="1.35" fill="#0000ff"/>
<circle cx="623.58" cy="343.01" r="1.35" fill="#0000ff"/>
<circle cx="631.39" cy="344.90" r="1.35" fill="#0000ff"/>
<circle cx="636.04" cy="344.27" r="1.35" fill="#0000ff"/>
<circle cx="627.53" cy="345.44" r="1.35" fill="#0000ff"/>
<circle cx="631.99" cy="342.54" r="1.35" fill="#0000ff"/>
<circle cx="648.59" cy="342.39" r="1.35" fill="#0000ff"/>
<circle cx="657.45" cy="343.64" r="1.35" fill="#0000ff"/>
<circle cx="641.95" cy="345.46" r="1.35" fill="#0000ff"/>
<circle cx="652.67" cy="345.45" r="1.35" fill="#0000ff"/>
<circle cx="642.84" cy="341.67" r="1.35" fill="#0000ff"/>
<circle cx="660.71" cy="344.65" r="1.35" fill="#0000ff"/>
<circle cx="655.07" cy="341.26" r="1.35" fill="#0000ff"/>
<circle cx="640.43" cy="340.58" r="1.35" fill="#0000ff"/>
<circle cx="662.99" cy="343.96" r="1.35" fill="#0000ff"/>
<circle cx="629.05" cy="343.66" r="1.35" fill="#0000ff"/>
<circle cx="625.18" cy="344.68" r="1.35" fill="#0000ff"/>
<circle cx="646.93" cy="345.30" r="1.35" fill="#0000ff"/>
<circle cx="633.65" cy="344.15" r="1.35" fill="#0000ff"/>
<circle cx="634.92" cy="341.76" r="1.35" fill="#0000ff"/>
<circle cx="624.16" cy="340.66" r="1.35" fill="#0000ff"/>
<line x1="622.70" y1="320.50" x2="662.90" y2="320.50" stroke="#000" stroke-width="1.0"/>
<line x1="633.30" y1="316.50" x2="652.30" y2="316.50" stroke="#0000ff" stroke-width="0.6"/>
<line x1="562.30" y1="233.50" x2="649.80" y2="233.50" stroke="#000" stroke-width="1.0"/>
<text x="592.00" y="229.60" font-size="8.7" text-anchor="start" fill="#000">n=110</text>
<text x="623.50" y="229.60" font-size="8.7" text-anchor="start" fill="#000">***</text>
<circle cx="558.3" cy="242.9" r="1.35" fill="#ff0000"/>
<text x="571.00" y="246.20" font-size="8.8" text-anchor="start" fill="#000">Adjacent normal</text>
<circle cx="559.0" cy="255.0" r="1.35" fill="#0000ff"/>
<text x="571.50" y="258.30" font-size="8.8" text-anchor="start" fill="#000">Tumor</text>
<text x="582.00" y="358.50" font-size="7.8" font-weight="bold" text-anchor="middle" fill="#000">Adjacent normal</text>
<text x="643.20" y="358.50" font-size="7.8" font-weight="bold" text-anchor="middle" fill="#000">Tumor</text>
<text x="513.80" y="293.90" font-size="8.4" font-weight="bold" text-anchor="middle" fill="#000" transform="rotate(-90 513.80 293.90)">Relative expression of</text>
<text x="525.80" y="292.50" font-size="8.4" font-weight="bold" text-anchor="middle" transform="rotate(-90 525.80 292.50)">miR-330-3p(2<tspan font-size="5.71" dy="-3.78">-ΔΔct</tspan><tspan dy="3.78">)</tspan></text>
<text x="5.00" y="401.30" font-size="16" text-anchor="start" fill="#000">g</text>
<line x1="64.50" y1="439.00" x2="64.50" y2="542.50" stroke="#000" stroke-width="1.0"/>
<line x1="60.20" y1="438.50" x2="64.20" y2="438.50" stroke="#000" stroke-width="1.0"/>
<text x="58.70" y="441.88" font-size="8.0" text-anchor="end" fill="#000">8</text>
<line x1="60.20" y1="459.50" x2="64.20" y2="459.50" stroke="#000" stroke-width="1.0"/>
<text x="58.70" y="462.58" font-size="8.0" text-anchor="end" fill="#000">6</text>
<line x1="60.20" y1="480.50" x2="64.20" y2="480.50" stroke="#000" stroke-width="1.0"/>
<text x="58.70" y="483.28" font-size="8.0" text-anchor="end" fill="#000">4</text>
<line x1="60.20" y1="501.50" x2="64.20" y2="501.50" stroke="#000" stroke-width="1.0"/>
<text x="58.70" y="503.98" font-size="8.0" text-anchor="end" fill="#000">2</text>
<line x1="60.20" y1="521.50" x2="64.20" y2="521.50" stroke="#000" stroke-width="1.0"/>
<text x="58.70" y="524.68" font-size="8.0" text-anchor="end" fill="#000">0</text>
<line x1="60.20" y1="542.50" x2="64.20" y2="542.50" stroke="#000" stroke-width="1.0"/>
<text x="58.70" y="545.38" font-size="8.0" text-anchor="end" fill="#000">-2</text>
<line x1="64.20" y1="521.50" x2="220.20" y2="521.50" stroke="#000" stroke-width="1.0"/>
<line x1="95.50" y1="521.80" x2="95.50" y2="525.30" stroke="#000" stroke-width="1.0"/>
<text x="95.40" y="533.40" font-size="8.0" text-anchor="middle" fill="#000">1</text>
<line x1="126.50" y1="521.80" x2="126.50" y2="525.30" stroke="#000" stroke-width="1.0"/>
<text x="126.60" y="533.40" font-size="8.0" text-anchor="middle" fill="#000">2</text>
<line x1="157.50" y1="521.80" x2="157.50" y2="525.30" stroke="#000" stroke-width="1.0"/>
<text x="157.80" y="533.40" font-size="8.0" text-anchor="middle" fill="#000">3</text>
<line x1="189.50" y1="521.80" x2="189.50" y2="525.30" stroke="#000" stroke-width="1.0"/>
<text x="189.00" y="533.40" font-size="8.0" text-anchor="middle" fill="#000">4</text>
<line x1="220.50" y1="521.80" x2="220.50" y2="525.30" stroke="#000" stroke-width="1.0"/>
<text x="220.20" y="533.40" font-size="8.0" text-anchor="middle" fill="#000">5</text>
<circle cx="64.20" cy="448.90" r="1.55" fill="#000"/>
<circle cx="69.40" cy="449.50" r="1.55" fill="#000"/>
<circle cx="63.60" cy="456.10" r="1.55" fill="#000"/>
<circle cx="65.40" cy="455.50" r="1.55" fill="#000"/>
<circle cx="64.80" cy="461.00" r="1.55" fill="#000"/>
<circle cx="66.60" cy="462.20" r="1.55" fill="#000"/>
<circle cx="68.20" cy="461.00" r="1.55" fill="#000"/>
<circle cx="73.30" cy="463.60" r="1.55" fill="#000"/>
<circle cx="69.10" cy="466.40" r="1.55" fill="#000"/>
<circle cx="64.60" cy="467.40" r="1.55" fill="#000"/>
<circle cx="64.80" cy="471.00" r="1.55" fill="#000"/>
<circle cx="66.60" cy="471.20" r="1.55" fill="#000"/>
<circle cx="68.70" cy="473.90" r="1.55" fill="#000"/>
<circle cx="76.30" cy="476.30" r="1.55" fill="#000"/>
<circle cx="92.80" cy="477.30" r="1.55" fill="#000"/>
<circle cx="65.10" cy="478.50" r="1.55" fill="#000"/>
<circle cx="66.00" cy="482.70" r="1.55" fill="#000"/>
<circle cx="67.20" cy="484.50" r="1.55" fill="#000"/>
<circle cx="67.50" cy="486.30" r="1.55" fill="#000"/>
<circle cx="67.00" cy="488.10" r="1.55" fill="#000"/>
<circle cx="66.60" cy="490.00" r="1.55" fill="#000"/>
<circle cx="77.10" cy="483.00" r="1.55" fill="#000"/>
<circle cx="78.70" cy="486.30" r="1.55" fill="#000"/>
<circle cx="81.50" cy="489.90" r="1.55" fill="#000"/>
<circle cx="79.90" cy="493.90" r="1.55" fill="#000"/>
<circle cx="81.10" cy="495.40" r="1.55" fill="#000"/>
<circle cx="84.10" cy="494.80" r="1.55" fill="#000"/>
<circle cx="86.00" cy="494.20" r="1.55" fill="#000"/>
<circle cx="89.00" cy="493.60" r="1.55" fill="#000"/>
<circle cx="111.90" cy="493.90" r="1.55" fill="#000"/>
<circle cx="111.30" cy="496.30" r="1.55" fill="#000"/>
<circle cx="76.30" cy="496.60" r="1.55" fill="#000"/>
<circle cx="75.70" cy="499.00" r="1.55" fill="#000"/>
<circle cx="77.50" cy="499.00" r="1.55" fill="#000"/>
<circle cx="78.70" cy="502.00" r="1.55" fill="#000"/>
<circle cx="79.30" cy="503.80" r="1.55" fill="#000"/>
<circle cx="78.10" cy="505.00" r="1.55" fill="#000"/>
<circle cx="63.60" cy="504.40" r="1.55" fill="#000"/>
<circle cx="65.40" cy="507.40" r="1.55" fill="#000"/>
<circle cx="69.70" cy="505.60" r="1.55" fill="#000"/>
<circle cx="70.90" cy="508.60" r="1.55" fill="#000"/>
<circle cx="69.10" cy="510.50" r="1.55" fill="#000"/>
<circle cx="71.50" cy="509.90" r="1.55" fill="#000"/>
<circle cx="74.50" cy="504.40" r="1.55" fill="#000"/>
<circle cx="86.00" cy="503.20" r="1.55" fill="#000"/>
<circle cx="87.80" cy="502.60" r="1.55" fill="#000"/>
<circle cx="84.70" cy="505.00" r="1.55" fill="#000"/>
<circle cx="93.80" cy="505.00" r="1.55" fill="#000"/>
<circle cx="105.30" cy="503.80" r="1.55" fill="#000"/>
<circle cx="106.50" cy="507.40" r="1.55" fill="#000"/>
<circle cx="109.50" cy="503.20" r="1.55" fill="#000"/>
<circle cx="63.60" cy="511.00" r="1.55" fill="#000"/>
<circle cx="79.30" cy="513.80" r="1.55" fill="#000"/>
<circle cx="86.60" cy="514.10" r="1.55" fill="#000"/>
<circle cx="88.40" cy="512.90" r="1.55" fill="#000"/>
<circle cx="95.30" cy="514.70" r="1.55" fill="#000"/>
<circle cx="102.90" cy="515.30" r="1.55" fill="#000"/>
<circle cx="104.10" cy="514.10" r="1.55" fill="#000"/>
<circle cx="70.30" cy="517.70" r="1.55" fill="#000"/>
<circle cx="83.50" cy="518.30" r="1.55" fill="#000"/>
<circle cx="110.10" cy="518.30" r="1.55" fill="#000"/>
<circle cx="111.90" cy="518.30" r="1.55" fill="#000"/>
<circle cx="116.70" cy="518.90" r="1.55" fill="#000"/>
<circle cx="64.80" cy="519.50" r="1.55" fill="#000"/>
<circle cx="66.00" cy="520.70" r="1.55" fill="#000"/>
<circle cx="68.50" cy="521.30" r="1.55" fill="#000"/>
<circle cx="70.90" cy="521.30" r="1.55" fill="#000"/>
<circle cx="77.50" cy="520.70" r="1.55" fill="#000"/>
<circle cx="91.40" cy="519.50" r="1.55" fill="#000"/>
<circle cx="92.00" cy="520.70" r="1.55" fill="#000"/>
<circle cx="104.10" cy="520.10" r="1.55" fill="#000"/>
<circle cx="104.10" cy="521.70" r="1.55" fill="#000"/>
<circle cx="117.30" cy="519.00" r="1.55" fill="#000"/>
<circle cx="117.60" cy="519.90" r="1.55" fill="#000"/>
<circle cx="125.50" cy="488.90" r="1.55" fill="#000"/>
<circle cx="130.80" cy="497.40" r="1.55" fill="#000"/>
<circle cx="124.10" cy="509.00" r="1.55" fill="#000"/>
<circle cx="127.30" cy="514.60" r="1.55" fill="#000"/>
<circle cx="126.10" cy="518.40" r="1.55" fill="#000"/>
<circle cx="145.40" cy="503.00" r="1.55" fill="#000"/>
<circle cx="145.40" cy="505.50" r="1.55" fill="#000"/>
<circle cx="153.00" cy="513.20" r="1.55" fill="#000"/>
<circle cx="142.40" cy="518.70" r="1.55" fill="#000"/>
<circle cx="141.60" cy="520.50" r="1.55" fill="#000"/>
<circle cx="150.60" cy="520.50" r="1.55" fill="#000"/>
<circle cx="157.60" cy="521.90" r="1.55" fill="#000"/>
<circle cx="171.90" cy="515.20" r="1.55" fill="#000"/>
<circle cx="179.50" cy="518.40" r="1.55" fill="#000"/>
<circle cx="169.00" cy="520.80" r="1.55" fill="#000"/>
<circle cx="188.80" cy="521.40" r="1.55" fill="#000"/>
<circle cx="65.50" cy="494.00" r="1.55" fill="#000"/>
<circle cx="66.50" cy="498.00" r="1.55" fill="#000"/>
<circle cx="64.80" cy="501.00" r="1.55" fill="#000"/>
<circle cx="72.00" cy="513.00" r="1.55" fill="#000"/>
<circle cx="74.00" cy="516.00" r="1.55" fill="#000"/>
<circle cx="67.00" cy="515.00" r="1.55" fill="#000"/>
<circle cx="81.00" cy="509.00" r="1.55" fill="#000"/>
<circle cx="82.50" cy="516.50" r="1.55" fill="#000"/>
<circle cx="97.00" cy="520.50" r="1.55" fill="#000"/>
<circle cx="99.00" cy="517.00" r="1.55" fill="#000"/>
<line x1="64.20" y1="495.00" x2="188.60" y2="526.40" stroke="#000" stroke-width="0.9"/>
<text x="129.90" y="447.80" font-size="8.3" text-anchor="start" fill="#222">n=110</text>
<text x="131.40" y="457.80" font-size="8.3" text-anchor="start" fill="#222">R=-0.3897</text>
<text x="129.90" y="467.10" font-size="8.3" text-anchor="start" fill="#222">P&lt;0.0001****</text>
<text x="141.50" y="549.70" font-size="8.6" font-weight="bold" text-anchor="middle" fill="#000">Relative expression of</text>
<text x="141.50" y="561.40" font-size="8.6" font-weight="bold" text-anchor="middle">circSEMA4B(2<tspan font-size="5.85" dy="-3.87">-ΔΔct</tspan><tspan dy="3.87">)</tspan></text>
<text x="33.80" y="490.30" font-size="9.1" text-anchor="middle" fill="#000" transform="rotate(-90 33.80 490.30)">Relative expression of</text>
<text x="46.50" y="488.20" font-size="9.1" text-anchor="middle" transform="rotate(-90 46.50 488.20)">miR-330-3p(2<tspan font-size="6.19" dy="-4.09">-ΔΔct</tspan><tspan dy="4.09">)</tspan></text>
<text x="249.70" y="401.50" font-size="16" text-anchor="start" fill="#000">h</text>
<line x1="301.50" y1="458.70" x2="301.50" y2="563.40" stroke="#000" stroke-width="1.0"/>
<line x1="297.90" y1="563.50" x2="301.90" y2="563.50" stroke="#000" stroke-width="1.0"/>
<text x="296.30" y="566.21" font-size="7.8" text-anchor="end" fill="#000">0</text>
<line x1="297.90" y1="528.50" x2="301.90" y2="528.50" stroke="#000" stroke-width="1.0"/>
<text x="296.30" y="531.31" font-size="7.8" text-anchor="end" fill="#000">1</text>
<line x1="297.90" y1="493.50" x2="301.90" y2="493.50" stroke="#000" stroke-width="1.0"/>
<text x="296.30" y="496.41" font-size="7.8" text-anchor="end" fill="#000">2</text>
<line x1="297.90" y1="458.50" x2="301.90" y2="458.50" stroke="#000" stroke-width="1.0"/>
<text x="296.30" y="461.51" font-size="7.8" text-anchor="end" fill="#000">3</text>
<line x1="301.90" y1="563.50" x2="448.60" y2="563.50" stroke="#000" stroke-width="1.0"/>
<line x1="336.50" y1="563.40" x2="336.50" y2="565.90" stroke="#000" stroke-width="1.0"/>
<line x1="412.50" y1="563.40" x2="412.50" y2="565.90" stroke="#000" stroke-width="1.0"/>
<line x1="312.50" y1="528.50" x2="312.50" y2="527.80" stroke="#000" stroke-width="0.8"/>
<line x1="309.90" y1="527.50" x2="315.30" y2="527.50" stroke="#000" stroke-width="0.8"/>
<rect x="307.20" y="528.50" width="10.80" height="34.90" fill="#000"/>
<line x1="329.50" y1="468.12" x2="329.50" y2="465.33" stroke="#0000ff" stroke-width="0.8"/>
<line x1="326.30" y1="465.50" x2="331.70" y2="465.50" stroke="#0000ff" stroke-width="0.8"/>
<rect x="323.60" y="468.12" width="10.80" height="95.28" fill="#0000ff"/>
<line x1="345.50" y1="528.50" x2="345.50" y2="526.06" stroke="#363636" stroke-width="0.8"/>
<line x1="342.90" y1="526.50" x2="348.10" y2="526.50" stroke="#363636" stroke-width="0.8"/>
<rect x="340.30" y="528.50" width="10.40" height="34.90" fill="#363636"/>
<line x1="361.50" y1="555.02" x2="361.50" y2="554.67" stroke="#ff0000" stroke-width="0.8"/>
<line x1="359.02" y1="554.50" x2="364.27" y2="554.50" stroke="#ff0000" stroke-width="0.8"/>
<rect x="356.40" y="555.02" width="10.50" height="8.38" fill="#ff0000"/>
<line x1="388.50" y1="528.50" x2="388.50" y2="527.45" stroke="#000" stroke-width="0.8"/>
<line x1="385.82" y1="527.50" x2="391.07" y2="527.50" stroke="#000" stroke-width="0.8"/>
<rect x="383.20" y="528.50" width="10.50" height="34.90" fill="#000"/>
<line x1="404.50" y1="511.05" x2="404.50" y2="510.00" stroke="#0000ff" stroke-width="0.8"/>
<line x1="402.20" y1="510.50" x2="407.40" y2="510.50" stroke="#0000ff" stroke-width="0.8"/>
<rect x="399.60" y="511.05" width="10.40" height="52.35" fill="#0000ff"/>
<line x1="420.50" y1="528.50" x2="420.50" y2="527.80" stroke="#363636" stroke-width="0.8"/>
<line x1="418.30" y1="527.50" x2="423.50" y2="527.50" stroke="#363636" stroke-width="0.8"/>
<rect x="415.70" y="528.50" width="10.40" height="34.90" fill="#363636"/>
<line x1="437.50" y1="536.88" x2="437.50" y2="536.53" stroke="#ff0000" stroke-width="0.8"/>
<line x1="434.62" y1="536.50" x2="439.88" y2="536.50" stroke="#ff0000" stroke-width="0.8"/>
<rect x="432.00" y="536.88" width="10.50" height="26.52" fill="#ff0000"/>
<line x1="309.90" y1="463.50" x2="330.10" y2="463.50" stroke="#000" stroke-width="1.0"/>
<text x="320.00" y="464.00" font-size="8.4" font-weight="bold" text-anchor="middle" fill="#000">****</text>
<line x1="344.60" y1="524.50" x2="364.60" y2="524.50" stroke="#000" stroke-width="1.0"/>
<text x="354.60" y="524.70" font-size="8.4" font-weight="bold" text-anchor="middle" fill="#000">****</text>
<line x1="386.30" y1="507.50" x2="406.20" y2="507.50" stroke="#000" stroke-width="1.0"/>
<text x="396.25" y="508.10" font-size="8.4" font-weight="bold" text-anchor="middle" fill="#000">****</text>
<line x1="420.30" y1="524.50" x2="439.70" y2="524.50" stroke="#000" stroke-width="1.0"/>
<text x="430.00" y="524.70" font-size="8.4" font-weight="bold" text-anchor="middle" fill="#000">***</text>
<rect x="304.30" y="414.00" width="11.50" height="5.20" fill="#000"/>
<text x="321.40" y="419.70" font-size="8.6" text-anchor="start" fill="#000">si-NC</text>
<rect x="304.30" y="424.40" width="11.50" height="5.20" fill="#0000ff"/>
<text x="321.40" y="430.10" font-size="8.6" text-anchor="start" fill="#000">si-circSEMA4B</text>
<rect x="304.30" y="434.70" width="11.50" height="5.20" fill="#363636"/>
<text x="321.40" y="440.40" font-size="8.6" text-anchor="start" fill="#000">LV-vector</text>
<rect x="304.30" y="444.80" width="11.50" height="5.20" fill="#ff0000"/>
<text x="321.40" y="450.50" font-size="8.6" text-anchor="start" fill="#000">LV-circSEMA4B</text>
<text x="336.90" y="575.60" font-size="7.8" font-weight="bold" text-anchor="middle" fill="#000">MDA-MB-231</text>
<text x="412.90" y="575.60" font-size="7.8" font-weight="bold" text-anchor="middle" fill="#000">MCF-7</text>
<text x="273.80" y="512.80" font-size="9.0" font-weight="bold" text-anchor="middle" fill="#000" transform="rotate(-90 273.80 512.80)">Relative expression of</text>
<text x="286.50" y="509.80" font-size="9.0" font-weight="bold" text-anchor="middle" transform="rotate(-90 286.50 509.80)">miR-330-3p(2<tspan font-size="6.12" dy="-4.05">-ΔΔct</tspan><tspan dy="4.05">)</tspan></text>
<text x="484.50" y="401.40" font-size="16" text-anchor="start" fill="#000">i</text>
<line x1="528.50" y1="455.32" x2="528.50" y2="563.40" stroke="#000" stroke-width="1.0"/>
<line x1="524.60" y1="563.50" x2="528.60" y2="563.50" stroke="#000" stroke-width="1.0"/>
<text x="523.00" y="566.21" font-size="7.8" text-anchor="end" fill="#000">0</text>
<line x1="524.60" y1="536.50" x2="528.60" y2="536.50" stroke="#000" stroke-width="1.0"/>
<text x="523.00" y="539.19" font-size="7.8" text-anchor="end" fill="#000">1</text>
<line x1="524.60" y1="509.50" x2="528.60" y2="509.50" stroke="#000" stroke-width="1.0"/>
<text x="523.00" y="512.17" font-size="7.8" text-anchor="end" fill="#000">2</text>
<line x1="524.60" y1="482.50" x2="528.60" y2="482.50" stroke="#000" stroke-width="1.0"/>
<text x="523.00" y="485.15" font-size="7.8" text-anchor="end" fill="#000">3</text>
<line x1="524.60" y1="455.50" x2="528.60" y2="455.50" stroke="#000" stroke-width="1.0"/>
<text x="523.00" y="458.13" font-size="7.8" text-anchor="end" fill="#000">4</text>
<line x1="528.60" y1="563.50" x2="679.90" y2="563.50" stroke="#000" stroke-width="1.0"/>
<line x1="564.50" y1="563.40" x2="564.50" y2="565.90" stroke="#000" stroke-width="1.0"/>
<line x1="642.50" y1="563.40" x2="642.50" y2="565.90" stroke="#000" stroke-width="1.0"/>
<line x1="539.50" y1="536.38" x2="539.50" y2="535.84" stroke="#000" stroke-width="0.8"/>
<line x1="536.67" y1="535.50" x2="542.42" y2="535.50" stroke="#000" stroke-width="0.8"/>
<rect x="533.80" y="536.38" width="11.50" height="27.02" fill="#000"/>
<line x1="556.50" y1="545.57" x2="556.50" y2="544.76" stroke="#0000ff" stroke-width="0.8"/>
<line x1="553.70" y1="544.50" x2="559.30" y2="544.50" stroke="#0000ff" stroke-width="0.8"/>
<rect x="550.90" y="545.57" width="11.20" height="17.83" fill="#0000ff"/>
<line x1="573.50" y1="536.38" x2="573.50" y2="535.03" stroke="#363636" stroke-width="0.8"/>
<line x1="570.53" y1="535.50" x2="576.17" y2="535.50" stroke="#363636" stroke-width="0.8"/>
<rect x="567.70" y="536.38" width="11.30" height="27.02" fill="#363636"/>
<line x1="589.50" y1="475.86" x2="589.50" y2="475.31" stroke="#ff0000" stroke-width="0.8"/>
<line x1="586.90" y1="475.50" x2="592.50" y2="475.50" stroke="#ff0000" stroke-width="0.8"/>
<rect x="584.10" y="475.86" width="11.20" height="87.54" fill="#ff0000"/>
<line x1="617.50" y1="536.38" x2="617.50" y2="535.84" stroke="#000" stroke-width="0.8"/>
<line x1="615.00" y1="535.50" x2="620.60" y2="535.50" stroke="#000" stroke-width="0.8"/>
<rect x="612.20" y="536.38" width="11.20" height="27.02" fill="#000"/>
<line x1="634.50" y1="550.70" x2="634.50" y2="550.16" stroke="#0000ff" stroke-width="0.8"/>
<line x1="631.83" y1="550.50" x2="637.47" y2="550.50" stroke="#0000ff" stroke-width="0.8"/>
<rect x="629.00" y="550.70" width="11.30" height="12.70" fill="#0000ff"/>
<line x1="651.50" y1="536.38" x2="651.50" y2="536.11" stroke="#363636" stroke-width="0.8"/>
<line x1="648.22" y1="536.50" x2="653.88" y2="536.50" stroke="#363636" stroke-width="0.8"/>
<rect x="645.40" y="536.38" width="11.30" height="27.02" fill="#363636"/>
<line x1="667.50" y1="488.82" x2="667.50" y2="488.28" stroke="#ff0000" stroke-width="0.8"/>
<line x1="665.10" y1="488.50" x2="670.70" y2="488.50" stroke="#ff0000" stroke-width="0.8"/>
<rect x="662.30" y="488.82" width="11.20" height="74.58" fill="#ff0000"/>
<line x1="539.40" y1="532.50" x2="559.80" y2="532.50" stroke="#000" stroke-width="1.0"/>
<text x="549.60" y="533.40" font-size="8.4" font-weight="bold" text-anchor="middle" fill="#000">***</text>
<line x1="569.50" y1="472.50" x2="590.00" y2="472.50" stroke="#000" stroke-width="1.0"/>
<text x="579.75" y="473.10" font-size="8.4" font-weight="bold" text-anchor="middle" fill="#000">****</text>
<line x1="616.80" y1="532.50" x2="636.70" y2="532.50" stroke="#000" stroke-width="1.0"/>
<text x="626.75" y="533.40" font-size="8.4" font-weight="bold" text-anchor="middle" fill="#000">****</text>
<line x1="648.00" y1="486.50" x2="667.90" y2="486.50" stroke="#000" stroke-width="1.0"/>
<text x="657.95" y="486.70" font-size="8.4" font-weight="bold" text-anchor="middle" fill="#000">****</text>
<rect x="533.50" y="415.20" width="11.50" height="5.20" fill="#000"/>
<text x="551.40" y="420.90" font-size="8.6" text-anchor="start" fill="#000">si-NC</text>
<rect x="533.50" y="426.20" width="11.50" height="5.20" fill="#0000ff"/>
<text x="551.40" y="431.90" font-size="8.6" text-anchor="start" fill="#000">si-circSEMA4B</text>
<rect x="533.50" y="436.90" width="11.50" height="5.20" fill="#363636"/>
<text x="551.40" y="442.60" font-size="8.6" text-anchor="start" fill="#000">LV-vector</text>
<rect x="533.50" y="447.90" width="11.50" height="5.20" fill="#ff0000"/>
<text x="551.40" y="453.60" font-size="8.6" text-anchor="start" fill="#000">LV-circSEMA4B</text>
<text x="564.50" y="575.60" font-size="7.8" font-weight="bold" text-anchor="middle" fill="#000">MDA-MB-231</text>
<text x="642.90" y="575.60" font-size="7.8" font-weight="bold" text-anchor="middle" fill="#000">MCF-7</text>
<text x="500.00" y="508.90" font-size="8.9" font-weight="bold" text-anchor="middle" fill="#000" transform="rotate(-90 500.00 508.90)">Relative expression of</text>
<text x="512.80" y="508.40" font-size="8.9" font-weight="bold" text-anchor="middle" transform="rotate(-90 512.80 508.40)">PDCD4(2<tspan font-size="6.05" dy="-4.00">-ΔΔct</tspan><tspan dy="4.00">)</tspan></text>
<text x="4.90" y="599.00" font-size="16.9" text-anchor="start" fill="#000">j</text>
<rect x="42.10" y="642.60" width="137.60" height="18.70" fill="#cdcdcd"/>
<rect x="42.10" y="666.40" width="137.60" height="18.10" fill="#cdcdcd"/>
<rect x="42.10" y="689.20" width="137.60" height="18.60" fill="#cdcdcd"/>
<rect x="42.10" y="712.30" width="137.60" height="18.40" fill="#cdcdcd"/>
<rect x="46.60" y="652.00" width="18.60" height="2.00" rx="1.00" fill="#333" fill-opacity="0.6" filter="url(#b1)"/>
<g filter="url(#b1)" fill="#111" fill-opacity="0.95"><path d="M46.60,656.40 C46.60,655.31 49.39,655.10 52.18,655.10 L59.62,655.10 C62.41,655.10 65.20,655.31 65.20,656.40 C65.20,657.49 62.41,657.70 59.62,657.70 L52.18,657.70 C49.39,657.70 46.60,657.49 46.60,656.40 Z"/></g>
<rect x="73.20" y="652.00" width="17.90" height="2.00" rx="1.00" fill="#333" fill-opacity="0.55" filter="url(#b1)"/>
<g filter="url(#b1)" fill="#111" fill-opacity="0.9"><path d="M73.20,656.40 C73.20,655.31 75.89,655.10 78.57,655.10 L85.73,655.10 C88.41,655.10 91.10,655.31 91.10,656.40 C91.10,657.49 88.41,657.70 85.73,657.70 L78.57,657.70 C75.89,657.70 73.20,657.49 73.20,656.40 Z"/></g>
<rect x="99.80" y="651.80" width="19.60" height="2.40" rx="1.20" fill="#333" fill-opacity="0.85" filter="url(#b1)"/>
<g filter="url(#b1)" fill="#111" fill-opacity="1.0"><path d="M99.80,657.00 C99.80,655.57 102.74,655.30 105.68,655.30 L113.52,655.30 C116.46,655.30 119.40,655.57 119.40,657.00 C119.40,658.43 116.46,658.70 113.52,658.70 L105.68,658.70 C102.74,658.70 99.80,658.43 99.80,657.00 Z"/></g>
<rect x="126.80" y="652.00" width="19.00" height="2.00" rx="1.00" fill="#333" fill-opacity="0.55" filter="url(#b1)"/>
<g filter="url(#b1)" fill="#111" fill-opacity="0.9"><path d="M126.80,656.40 C126.80,655.31 129.65,655.10 132.50,655.10 L140.10,655.10 C142.95,655.10 145.80,655.31 145.80,656.40 C145.80,657.49 142.95,657.70 140.10,657.70 L132.50,657.70 C129.65,657.70 126.80,657.49 126.80,656.40 Z"/></g>
<rect x="154.30" y="652.00" width="20.10" height="2.00" rx="1.00" fill="#333" fill-opacity="0.45" filter="url(#b1)"/>
<g filter="url(#b1)" fill="#111" fill-opacity="0.65"><path d="M154.30,656.40 C154.30,655.31 157.31,655.10 160.33,655.10 L168.37,655.10 C171.39,655.10 174.40,655.31 174.40,656.40 C174.40,657.49 171.39,657.70 168.37,657.70 L160.33,657.70 C157.31,657.70 154.30,657.49 154.30,656.40 Z"/></g>
<g filter="url(#b1)" fill="#050505" fill-opacity="1.0"><path d="M45.50,679.40 C45.50,677.47 48.84,677.10 52.19,677.10 L61.11,677.10 C64.45,677.10 67.80,677.47 67.80,679.40 C67.80,681.33 64.45,681.70 61.11,681.70 L52.19,681.70 C48.84,681.70 45.50,681.33 45.50,679.40 Z"/></g>
<g filter="url(#b1)" fill="#050505" fill-opacity="1.0"><path d="M72.60,679.40 C72.60,677.76 75.78,677.45 78.96,677.45 L87.44,677.45 C90.62,677.45 93.80,677.76 93.80,679.40 C93.80,681.04 90.62,681.35 87.44,681.35 L78.96,681.35 C75.78,681.35 72.60,681.04 72.60,679.40 Z"/></g>
<g filter="url(#b1)" fill="#050505" fill-opacity="1.0"><path d="M99.30,679.40 C99.30,677.76 102.63,677.45 105.96,677.45 L114.84,677.45 C118.17,677.45 121.50,677.76 121.50,679.40 C121.50,681.04 118.17,681.35 114.84,681.35 L105.96,681.35 C102.63,681.35 99.30,681.04 99.30,679.40 Z"/></g>
<g filter="url(#b1)" fill="#050505" fill-opacity="1.0"><path d="M125.80,679.40 C125.80,677.47 129.01,677.10 132.22,677.10 L140.78,677.10 C143.99,677.10 147.20,677.47 147.20,679.40 C147.20,681.33 143.99,681.70 140.78,681.70 L132.22,681.70 C129.01,681.70 125.80,681.33 125.80,679.40 Z"/></g>
<g filter="url(#b1)" fill="#050505" fill-opacity="1.0"><path d="M151.20,679.40 C151.20,677.47 154.68,677.10 158.16,677.10 L167.44,677.10 C170.92,677.10 174.40,677.47 174.40,679.40 C174.40,681.33 170.92,681.70 167.44,681.70 L158.16,681.70 C154.68,681.70 151.20,681.33 151.20,679.40 Z"/></g>
<g filter="url(#b1)" fill="#151515" fill-opacity="0.9"><path d="M45.60,700.00 C45.60,698.66 48.69,698.40 51.78,698.40 L60.02,698.40 C63.11,698.40 66.20,698.66 66.20,700.00 C66.20,701.34 63.11,701.60 60.02,701.60 L51.78,701.60 C48.69,701.60 45.60,701.34 45.60,700.00 Z"/></g>
<g filter="url(#b1)" fill="#151515" fill-opacity="0.85"><path d="M72.20,700.00 C72.20,698.66 75.19,698.40 78.17,698.40 L86.13,698.40 C89.11,698.40 92.10,698.66 92.10,700.00 C92.10,701.34 89.11,701.60 86.13,701.60 L78.17,701.60 C75.19,701.60 72.20,701.34 72.20,700.00 Z"/></g>
<g filter="url(#b1)" fill="#151515" fill-opacity="0.4"><path d="M98.80,700.00 C98.80,698.66 102.04,698.40 105.28,698.40 L113.92,698.40 C117.16,698.40 120.40,698.66 120.40,700.00 C120.40,701.34 117.16,701.60 113.92,701.60 L105.28,701.60 C102.04,701.60 98.80,701.34 98.80,700.00 Z"/></g>
<g filter="url(#b1)" fill="#151515" fill-opacity="0.9"><path d="M125.80,700.00 C125.80,698.66 128.95,698.40 132.10,698.40 L140.50,698.40 C143.65,698.40 146.80,698.66 146.80,700.00 C146.80,701.34 143.65,701.60 140.50,701.60 L132.10,701.60 C128.95,701.60 125.80,701.34 125.80,700.00 Z"/></g>
<g filter="url(#b1)" fill="#151515" fill-opacity="1.0"><path d="M153.30,700.00 C153.30,698.66 156.62,698.40 159.93,698.40 L168.77,698.40 C172.09,698.40 175.40,698.66 175.40,700.00 C175.40,701.34 172.09,701.60 168.77,701.60 L159.93,701.60 C156.62,701.60 153.30,701.34 153.30,700.00 Z"/></g>
<g filter="url(#b1)" fill="#000" fill-opacity="1.0"><path d="M44.60,722.40 C44.60,719.63 47.90,719.10 51.20,719.10 L60.00,719.10 C63.30,719.10 66.60,719.63 66.60,722.40 C66.60,725.17 63.30,725.70 60.00,725.70 L51.20,725.70 C47.90,725.70 44.60,725.17 44.60,722.40 Z"/></g>
<g filter="url(#b1)" fill="#000" fill-opacity="1.0"><path d="M71.00,722.40 C71.00,719.63 74.30,719.10 77.60,719.10 L86.40,719.10 C89.70,719.10 93.00,719.63 93.00,722.40 C93.00,725.17 89.70,725.70 86.40,725.70 L77.60,725.70 C74.30,725.70 71.00,725.17 71.00,722.40 Z"/></g>
<g filter="url(#b1)" fill="#000" fill-opacity="1.0"><path d="M99.60,722.40 C99.60,719.63 103.05,719.10 106.50,719.10 L115.70,719.10 C119.15,719.10 122.60,719.63 122.60,722.40 C122.60,725.17 119.15,725.70 115.70,725.70 L106.50,725.70 C103.05,725.70 99.60,725.17 99.60,722.40 Z"/></g>
<g filter="url(#b1)" fill="#000" fill-opacity="1.0"><path d="M127.00,722.40 C127.00,719.63 130.30,719.10 133.60,719.10 L142.40,719.10 C145.70,719.10 149.00,719.63 149.00,722.40 C149.00,725.17 145.70,725.70 142.40,725.70 L133.60,725.70 C130.30,725.70 127.00,725.17 127.00,722.40 Z"/></g>
<g filter="url(#b1)" fill="#000" fill-opacity="1.0"><path d="M153.00,722.40 C153.00,719.63 156.45,719.10 159.90,719.10 L169.10,719.10 C172.55,719.10 176.00,719.63 176.00,722.40 C176.00,725.17 172.55,725.70 169.10,725.70 L159.90,725.70 C156.45,725.70 153.00,725.17 153.00,722.40 Z"/></g>
<rect x="42.10" y="642.60" width="137.60" height="18.70" fill="none" stroke="#111" stroke-width="1.2"/>
<rect x="42.10" y="666.40" width="137.60" height="18.10" fill="none" stroke="#111" stroke-width="1.2"/>
<rect x="42.10" y="689.20" width="137.60" height="18.60" fill="none" stroke="#111" stroke-width="1.2"/>
<rect x="42.10" y="712.30" width="137.60" height="18.40" fill="none" stroke="#111" stroke-width="1.2"/>
<rect x="183.30" y="642.60" width="137.50" height="18.70" fill="#d6d6d6"/>
<rect x="183.30" y="666.40" width="137.50" height="18.10" fill="#d6d6d6"/>
<rect x="183.30" y="689.20" width="137.50" height="18.60" fill="#d6d6d6"/>
<rect x="183.30" y="712.30" width="137.50" height="18.40" fill="#d6d6d6"/>
<g filter="url(#b1)" fill="#111" fill-opacity="0.55"><path d="M188.70,653.80 C188.70,652.96 191.49,652.80 194.28,652.80 L201.72,652.80 C204.51,652.80 207.30,652.96 207.30,653.80 C207.30,654.64 204.51,654.80 201.72,654.80 L194.28,654.80 C191.49,654.80 188.70,654.64 188.70,653.80 Z"/></g>
<g filter="url(#b1)" fill="#111" fill-opacity="0.55"><path d="M216.00,653.80 C216.00,652.96 218.59,652.80 221.19,652.80 L228.11,652.80 C230.71,652.80 233.30,652.96 233.30,653.80 C233.30,654.64 230.71,654.80 228.11,654.80 L221.19,654.80 C218.59,654.80 216.00,654.64 216.00,653.80 Z"/></g>
<g filter="url(#b1)" fill="#111" fill-opacity="0.95"><path d="M242.00,653.80 C242.00,652.71 245.16,652.50 248.33,652.50 L256.77,652.50 C259.94,652.50 263.10,652.71 263.10,653.80 C263.10,654.89 259.94,655.10 256.77,655.10 L248.33,655.10 C245.16,655.10 242.00,654.89 242.00,653.80 Z"/></g>
<g filter="url(#b1)" fill="#111" fill-opacity="0.8"><path d="M270.60,653.80 C270.60,652.83 273.21,652.65 275.82,652.65 L282.78,652.65 C285.39,652.65 288.00,652.83 288.00,653.80 C288.00,654.77 285.39,654.95 282.78,654.95 L275.82,654.95 C273.21,654.95 270.60,654.77 270.60,653.80 Z"/></g>
<g filter="url(#b1)" fill="#111" fill-opacity="0.45"><path d="M296.60,653.80 C296.60,653.00 299.39,652.85 302.18,652.85 L309.62,652.85 C312.41,652.85 315.20,653.00 315.20,653.80 C315.20,654.60 312.41,654.75 309.62,654.75 L302.18,654.75 C299.39,654.75 296.60,654.60 296.60,653.80 Z"/></g>
<g filter="url(#b1)" fill="#050505" fill-opacity="1.0"><path d="M186.20,676.00 C186.20,674.07 190.02,673.70 193.85,673.70 L204.05,673.70 C207.88,673.70 211.70,674.07 211.70,676.00 C211.70,677.93 207.88,678.30 204.05,678.30 L193.85,678.30 C190.02,678.30 186.20,677.93 186.20,676.00 Z"/></g>
<g filter="url(#b1)" fill="#050505" fill-opacity="1.0"><path d="M213.50,676.00 C213.50,674.15 217.03,673.80 220.55,673.80 L229.95,673.80 C233.47,673.80 237.00,674.15 237.00,676.00 C237.00,677.85 233.47,678.20 229.95,678.20 L220.55,678.20 C217.03,678.20 213.50,677.85 213.50,676.00 Z"/></g>
<g filter="url(#b1)" fill="#050505" fill-opacity="1.0"><path d="M240.00,677.00 C240.00,675.24 243.59,674.90 247.17,674.90 L256.73,674.90 C260.31,674.90 263.90,675.24 263.90,677.00 C263.90,678.76 260.31,679.10 256.73,679.10 L247.17,679.10 C243.59,679.10 240.00,678.76 240.00,677.00 Z"/></g>
<g filter="url(#b1)" fill="#050505" fill-opacity="1.0"><path d="M266.30,678.30 C266.30,676.37 269.81,676.00 273.32,676.00 L282.68,676.00 C286.19,676.00 289.70,676.37 289.70,678.30 C289.70,680.23 286.19,680.60 282.68,680.60 L273.32,680.60 C269.81,680.60 266.30,680.23 266.30,678.30 Z"/></g>
<g filter="url(#b1)" fill="#050505" fill-opacity="1.0"><path d="M292.10,679.00 C292.10,676.90 296.19,676.50 300.29,676.50 L311.21,676.50 C315.31,676.50 319.40,676.90 319.40,679.00 C319.40,681.10 315.31,681.50 311.21,681.50 L300.29,681.50 C296.19,681.50 292.10,681.10 292.10,679.00 Z"/></g>
<rect x="211.50" y="689.80" width="4.50" height="17.40" fill="#e6e6e6"/>
<rect x="237.50" y="689.80" width="6.50" height="17.40" fill="#e6e6e6"/>
<rect x="262.50" y="689.80" width="6.00" height="17.40" fill="#e6e6e6"/>
<rect x="290.50" y="689.80" width="4.50" height="17.40" fill="#e6e6e6"/>
<rect x="189.50" y="691.60" width="21.20" height="2.00" rx="0.80" fill="#111" fill-opacity="0.9" filter="url(#b1)"/>
<rect x="189.50" y="694.00" width="21.20" height="6.00" rx="1.20" fill="#050505" fill-opacity="0.95" filter="url(#b1)"/>
<rect x="189.50" y="700.50" width="21.20" height="5.80" rx="2.90" fill="#5a5a5a" fill-opacity="0.6" filter="url(#b2)"/>
<rect x="195.7" y="701.8" width="2.0" height="0.9" fill="#222" fill-opacity="0.51"/>
<rect x="196.5" y="701.3" width="1.8" height="0.8" fill="#222" fill-opacity="0.47"/>
<rect x="190.8" y="701.5" width="1.6" height="1.6" fill="#222" fill-opacity="0.35"/>
<rect x="193.8" y="704.1" width="2.4" height="1.4" fill="#222" fill-opacity="0.46"/>
<rect x="208.2" y="701.2" width="2.3" height="1.1" fill="#222" fill-opacity="0.36"/>
<rect x="191.8" y="702.5" width="2.2" height="1.0" fill="#222" fill-opacity="0.53"/>
<rect x="201.8" y="702.9" width="1.8" height="0.9" fill="#222" fill-opacity="0.32"/>
<rect x="193.5" y="704.4" width="1.6" height="1.1" fill="#222" fill-opacity="0.53"/>
<rect x="198.2" y="702.5" width="2.2" height="1.5" fill="#222" fill-opacity="0.40"/>
<rect x="200.5" y="703.6" width="2.3" height="1.5" fill="#222" fill-opacity="0.42"/>
<rect x="208.3" y="701.6" width="1.6" height="1.6" fill="#222" fill-opacity="0.36"/>
<rect x="198.9" y="701.2" width="2.0" height="1.6" fill="#222" fill-opacity="0.53"/>
<rect x="217.00" y="691.60" width="19.10" height="2.00" rx="0.80" fill="#111" fill-opacity="0.9" filter="url(#b1)"/>
<rect x="217.00" y="694.00" width="19.10" height="6.00" rx="1.20" fill="#050505" fill-opacity="0.95" filter="url(#b1)"/>
<rect x="217.00" y="700.50" width="19.10" height="5.80" rx="2.90" fill="#5a5a5a" fill-opacity="0.6" filter="url(#b2)"/>
<rect x="232.0" y="702.6" width="2.0" height="1.4" fill="#222" fill-opacity="0.53"/>
<rect x="224.8" y="705.2" width="2.4" height="1.3" fill="#222" fill-opacity="0.57"/>
<rect x="218.0" y="704.5" width="2.0" height="1.8" fill="#222" fill-opacity="0.63"/>
<rect x="221.9" y="702.9" width="2.0" height="0.8" fill="#222" fill-opacity="0.48"/>
<rect x="219.9" y="701.6" width="1.1" height="1.6" fill="#222" fill-opacity="0.35"/>
<rect x="221.2" y="703.0" width="2.3" height="0.9" fill="#222" fill-opacity="0.48"/>
<rect x="226.4" y="705.4" width="2.2" height="1.7" fill="#222" fill-opacity="0.41"/>
<rect x="224.1" y="702.8" width="2.3" height="1.8" fill="#222" fill-opacity="0.36"/>
<rect x="220.0" y="702.2" width="1.4" height="1.3" fill="#222" fill-opacity="0.54"/>
<rect x="221.5" y="701.0" width="1.6" height="1.2" fill="#222" fill-opacity="0.53"/>
<rect x="233.3" y="704.5" width="1.8" height="1.4" fill="#222" fill-opacity="0.57"/>
<rect x="217.9" y="705.5" width="2.2" height="1.7" fill="#222" fill-opacity="0.62"/>
<rect x="244.60" y="691.40" width="16.90" height="1.60" rx="0.80" fill="#555" fill-opacity="0.5" filter="url(#b1)"/>
<rect x="245.10" y="695.90" width="15.90" height="3.40" rx="1.70" fill="#0a0a0a" fill-opacity="0.9" filter="url(#b1)"/>
<rect x="244.60" y="700.80" width="16.90" height="5.60" rx="2.80" fill="#8a8a8a" fill-opacity="0.55" filter="url(#b2)"/>
<rect x="250.4" y="703.0" width="1.2" height="1.4" fill="#222" fill-opacity="0.32"/>
<rect x="245.6" y="702.0" width="1.2" height="1.1" fill="#222" fill-opacity="0.32"/>
<rect x="244.6" y="701.8" width="1.2" height="1.2" fill="#222" fill-opacity="0.31"/>
<rect x="257.6" y="704.1" width="1.2" height="1.1" fill="#222" fill-opacity="0.44"/>
<rect x="250.0" y="701.6" width="2.3" height="1.8" fill="#222" fill-opacity="0.49"/>
<rect x="251.8" y="701.4" width="1.2" height="1.1" fill="#222" fill-opacity="0.41"/>
<rect x="268.90" y="691.60" width="20.10" height="2.00" rx="0.80" fill="#111" fill-opacity="0.9" filter="url(#b1)"/>
<rect x="268.90" y="694.00" width="20.10" height="6.00" rx="1.20" fill="#050505" fill-opacity="0.95" filter="url(#b1)"/>
<rect x="268.90" y="700.50" width="20.10" height="5.80" rx="2.90" fill="#5a5a5a" fill-opacity="0.6" filter="url(#b2)"/>
<rect x="283.9" y="701.8" width="1.0" height="1.8" fill="#222" fill-opacity="0.51"/>
<rect x="271.6" y="703.7" width="1.0" height="1.3" fill="#222" fill-opacity="0.69"/>
<rect x="284.5" y="704.5" width="1.4" height="1.2" fill="#222" fill-opacity="0.37"/>
<rect x="282.9" y="703.7" width="2.2" height="1.1" fill="#222" fill-opacity="0.39"/>
<rect x="283.6" y="705.9" width="2.3" height="1.6" fill="#222" fill-opacity="0.63"/>
<rect x="282.3" y="702.1" width="1.8" height="1.2" fill="#222" fill-opacity="0.31"/>
<rect x="269.4" y="702.4" width="1.4" height="1.5" fill="#222" fill-opacity="0.68"/>
<rect x="277.0" y="705.7" width="2.5" height="1.8" fill="#222" fill-opacity="0.45"/>
<rect x="272.9" y="702.1" width="1.3" height="1.0" fill="#222" fill-opacity="0.55"/>
<rect x="285.2" y="705.2" width="1.7" height="1.5" fill="#222" fill-opacity="0.62"/>
<rect x="270.4" y="704.3" width="2.4" height="1.6" fill="#222" fill-opacity="0.60"/>
<rect x="277.6" y="701.9" width="2.2" height="1.1" fill="#222" fill-opacity="0.62"/>
<rect x="295.40" y="691.60" width="20.10" height="2.00" rx="0.80" fill="#111" fill-opacity="0.9" filter="url(#b1)"/>
<rect x="295.40" y="694.00" width="20.10" height="6.00" rx="1.20" fill="#050505" fill-opacity="0.95" filter="url(#b1)"/>
<rect x="295.40" y="700.50" width="20.10" height="5.80" rx="2.90" fill="#5a5a5a" fill-opacity="0.85" filter="url(#b2)"/>
<rect x="313.0" y="703.0" width="1.6" height="1.7" fill="#222" fill-opacity="0.59"/>
<rect x="298.5" y="701.6" width="1.2" height="1.7" fill="#222" fill-opacity="0.62"/>
<rect x="298.0" y="705.1" width="2.5" height="1.5" fill="#222" fill-opacity="0.44"/>
<rect x="305.3" y="701.7" width="1.0" height="1.8" fill="#222" fill-opacity="0.56"/>
<rect x="304.9" y="705.7" width="1.7" height="1.7" fill="#222" fill-opacity="0.63"/>
<rect x="299.2" y="702.3" width="1.4" height="1.0" fill="#222" fill-opacity="0.53"/>
<rect x="300.1" y="703.1" width="1.2" height="1.7" fill="#222" fill-opacity="0.44"/>
<rect x="303.7" y="703.9" width="2.4" height="1.2" fill="#222" fill-opacity="0.67"/>
<rect x="304.5" y="703.7" width="1.8" height="0.8" fill="#222" fill-opacity="0.48"/>
<rect x="298.7" y="701.0" width="2.2" height="1.0" fill="#222" fill-opacity="0.49"/>
<rect x="308.5" y="703.8" width="1.5" height="1.3" fill="#222" fill-opacity="0.52"/>
<rect x="309.6" y="701.5" width="1.8" height="1.0" fill="#222" fill-opacity="0.41"/>
<rect x="309.4" y="703.5" width="1.8" height="1.6" fill="#222" fill-opacity="0.66"/>
<rect x="303.4" y="704.1" width="1.8" height="1.3" fill="#222" fill-opacity="0.58"/>
<rect x="303.6" y="703.7" width="1.7" height="1.7" fill="#222" fill-opacity="0.58"/>
<rect x="311.3" y="705.7" width="1.4" height="1.4" fill="#222" fill-opacity="0.68"/>
<rect x="310.6" y="701.7" width="1.2" height="1.2" fill="#222" fill-opacity="0.33"/>
<rect x="299.8" y="701.4" width="2.0" height="1.6" fill="#222" fill-opacity="0.66"/>
<rect x="298.2" y="704.6" width="2.0" height="0.9" fill="#222" fill-opacity="0.65"/>
<rect x="312.9" y="702.1" width="2.4" height="1.2" fill="#222" fill-opacity="0.49"/>
<g filter="url(#b1)" fill="#000" fill-opacity="1.0"><path d="M188.70,721.30 C188.70,718.78 191.85,718.60 195.00,718.60 L203.40,718.00 C206.55,718.00 209.70,718.78 209.70,721.30 C209.70,723.82 206.55,724.00 203.40,724.00 L195.00,724.60 C191.85,724.60 188.70,723.82 188.70,721.30 Z"/></g>
<g filter="url(#b1)" fill="#000" fill-opacity="1.0"><path d="M215.00,720.60 C215.00,718.08 218.12,717.90 221.24,717.90 L229.56,717.30 C232.68,717.30 235.80,718.08 235.80,720.60 C235.80,723.12 232.68,723.30 229.56,723.30 L221.24,723.90 C218.12,723.90 215.00,723.12 215.00,720.60 Z"/></g>
<g filter="url(#b1)" fill="#000" fill-opacity="1.0"><path d="M240.00,719.50 C240.00,716.98 243.45,716.80 246.90,716.80 L256.10,716.20 C259.55,716.20 263.00,716.98 263.00,719.50 C263.00,722.02 259.55,722.20 256.10,722.20 L246.90,722.80 C243.45,722.80 240.00,722.02 240.00,719.50 Z"/></g>
<g filter="url(#b1)" fill="#000" fill-opacity="1.0"><path d="M266.50,718.30 C266.50,715.78 269.88,715.60 273.25,715.60 L282.25,715.00 C285.62,715.00 289.00,715.78 289.00,718.30 C289.00,720.82 285.62,721.00 282.25,721.00 L273.25,721.60 C269.88,721.60 266.50,720.82 266.50,718.30 Z"/></g>
<g filter="url(#b1)" fill="#000" fill-opacity="1.0"><path d="M294.00,717.60 C294.00,715.08 297.45,714.90 300.90,714.90 L310.10,714.30 C313.55,714.30 317.00,715.08 317.00,717.60 C317.00,720.12 313.55,720.30 310.10,720.30 L300.90,720.90 C297.45,720.90 294.00,720.12 294.00,717.60 Z"/></g>
<rect x="183.30" y="642.60" width="137.50" height="18.70" fill="none" stroke="#111" stroke-width="1.2"/>
<rect x="183.30" y="666.40" width="137.50" height="18.10" fill="none" stroke="#111" stroke-width="1.2"/>
<rect x="183.30" y="689.20" width="137.50" height="18.60" fill="none" stroke="#111" stroke-width="1.2"/>
<rect x="183.30" y="712.30" width="137.50" height="18.40" fill="none" stroke="#111" stroke-width="1.2"/>
<text x="38.20" y="657.30" font-size="6.7" font-weight="bold" text-anchor="end" fill="#000">p-AKT(S473)</text>
<text x="38.20" y="680.00" font-size="6.7" font-weight="bold" text-anchor="end" fill="#000">AKT</text>
<text x="38.20" y="702.80" font-size="6.7" font-weight="bold" text-anchor="end" fill="#000">PDCD4</text>
<text x="38.20" y="726.00" font-size="6.7" font-weight="bold" text-anchor="end" fill="#000">ACTIN</text>
<text x="46.50" y="640.30" font-size="6.5" font-weight="bold" text-anchor="start" fill="#000" transform="rotate(-40 46.50 640.30)">Control</text>
<text x="71.60" y="639.00" font-size="6.5" font-weight="bold" text-anchor="start" fill="#000" transform="rotate(-40 71.60 639.00)">si-NC</text>
<text x="95.60" y="639.40" font-size="6.5" font-weight="bold" text-anchor="start" fill="#000" transform="rotate(-40 95.60 639.40)">si-circSEMA4B</text>
<text x="123.00" y="639.80" font-size="6.5" font-weight="bold" text-anchor="start" fill="#000" transform="rotate(-40 123.00 639.80)">LV-vector</text>
<text x="152.60" y="639.80" font-size="6.5" font-weight="bold" text-anchor="start" fill="#000" transform="rotate(-40 152.60 639.80)">LV-circSEMA4B</text>
<text x="184.40" y="639.80" font-size="6.5" font-weight="bold" text-anchor="start" fill="#000" transform="rotate(-40 184.40 639.80)">Control</text>
<text x="213.60" y="638.00" font-size="6.5" font-weight="bold" text-anchor="start" fill="#000" transform="rotate(-40 213.60 638.00)">si-NC</text>
<text x="238.10" y="638.70" font-size="6.5" font-weight="bold" text-anchor="start" fill="#000" transform="rotate(-40 238.10 638.70)">si-circSEMA4B</text>
<text x="266.20" y="639.40" font-size="6.5" font-weight="bold" text-anchor="start" fill="#000" transform="rotate(-40 266.20 639.40)">LV-vector</text>
<text x="295.40" y="639.40" font-size="6.5" font-weight="bold" text-anchor="start" fill="#000" transform="rotate(-40 295.40 639.40)">LV-circSEMA4B</text>
<text x="321.30" y="632.60" font-size="5.6" font-weight="bold" text-anchor="start" fill="#000">MW</text>
<text x="321.30" y="640.00" font-size="5.6" font-weight="bold" text-anchor="start" fill="#000">(kDa)</text>
<line x1="320.80" y1="652.50" x2="323.20" y2="652.50" stroke="#000" stroke-width="0.8"/>
<text x="324.00" y="655.00" font-size="6.3" font-weight="bold" text-anchor="start" fill="#000">60</text>
<line x1="320.80" y1="676.50" x2="323.20" y2="676.50" stroke="#000" stroke-width="0.8"/>
<text x="324.00" y="678.30" font-size="6.3" font-weight="bold" text-anchor="start" fill="#000">56</text>
<line x1="320.80" y1="698.50" x2="323.20" y2="698.50" stroke="#000" stroke-width="0.8"/>
<text x="324.00" y="700.90" font-size="6.3" font-weight="bold" text-anchor="start" fill="#000">51</text>
<line x1="320.80" y1="721.50" x2="323.20" y2="721.50" stroke="#000" stroke-width="0.8"/>
<text x="324.00" y="723.70" font-size="6.3" font-weight="bold" text-anchor="start" fill="#000">42</text>
<text x="117.70" y="739.40" font-size="6.3" font-weight="bold" text-anchor="middle" fill="#000">MDA-MB-231</text>
<text x="249.00" y="739.40" font-size="6.3" font-weight="bold" text-anchor="middle" fill="#000">MCF-7</text>
<line x1="384.50" y1="654.10" x2="384.50" y2="726.70" stroke="#000" stroke-width="0.9"/>
<line x1="381.80" y1="726.50" x2="384.60" y2="726.50" stroke="#000" stroke-width="0.9"/>
<text x="380.60" y="728.97" font-size="6.3" text-anchor="end" fill="#000">0.0</text>
<line x1="381.80" y1="708.50" x2="384.60" y2="708.50" stroke="#000" stroke-width="0.9"/>
<text x="380.60" y="710.82" font-size="6.3" text-anchor="end" fill="#000">0.5</text>
<line x1="381.80" y1="690.50" x2="384.60" y2="690.50" stroke="#000" stroke-width="0.9"/>
<text x="380.60" y="692.67" font-size="6.3" text-anchor="end" fill="#000">1.0</text>
<line x1="381.80" y1="672.50" x2="384.60" y2="672.50" stroke="#000" stroke-width="0.9"/>
<text x="380.60" y="674.52" font-size="6.3" text-anchor="end" fill="#000">1.5</text>
<line x1="381.80" y1="654.50" x2="384.60" y2="654.50" stroke="#000" stroke-width="0.9"/>
<text x="380.60" y="656.37" font-size="6.3" text-anchor="end" fill="#000">2.0</text>
<line x1="384.60" y1="726.50" x2="494.80" y2="726.50" stroke="#000" stroke-width="0.9"/>
<line x1="402.50" y1="726.70" x2="402.50" y2="729.20" stroke="#000" stroke-width="0.9"/>
<line x1="439.50" y1="726.70" x2="439.50" y2="729.20" stroke="#000" stroke-width="0.9"/>
<line x1="476.50" y1="726.70" x2="476.50" y2="729.20" stroke="#000" stroke-width="0.9"/>
<line x1="389.50" y1="691.85" x2="389.50" y2="692.58" stroke="#666666" stroke-width="0.6"/>
<line x1="388.25" y1="691.50" x2="390.65" y2="691.50" stroke="#666666" stroke-width="0.6"/>
<rect x="387.20" y="692.58" width="4.50" height="34.12" fill="#666666"/>
<line x1="396.50" y1="686.04" x2="396.50" y2="690.04" stroke="#777" stroke-width="0.6"/>
<line x1="395.05" y1="686.50" x2="397.45" y2="686.50" stroke="#777" stroke-width="0.6"/>
<rect x="394.10" y="690.04" width="4.30" height="36.66" fill="#000"/>
<line x1="402.50" y1="664.26" x2="402.50" y2="668.26" stroke="#0000ff" stroke-width="0.6"/>
<line x1="401.30" y1="664.50" x2="403.70" y2="664.50" stroke="#0000ff" stroke-width="0.6"/>
<rect x="400.30" y="668.26" width="4.40" height="58.44" fill="#0000ff"/>
<line x1="408.50" y1="685.32" x2="408.50" y2="690.04" stroke="#666" stroke-width="0.6"/>
<line x1="407.75" y1="685.50" x2="410.15" y2="685.50" stroke="#666" stroke-width="0.6"/>
<rect x="406.80" y="690.04" width="4.30" height="36.66" fill="#333333"/>
<line x1="415.50" y1="698.39" x2="415.50" y2="700.02" stroke="#ff0000" stroke-width="0.6"/>
<line x1="414.60" y1="698.50" x2="417.00" y2="698.50" stroke="#ff0000" stroke-width="0.6"/>
<rect x="413.60" y="700.02" width="4.40" height="26.68" fill="#ff0000"/>
<line x1="426.50" y1="689.67" x2="426.50" y2="691.85" stroke="#666666" stroke-width="0.6"/>
<line x1="425.45" y1="689.50" x2="427.85" y2="689.50" stroke="#666666" stroke-width="0.6"/>
<rect x="424.50" y="691.85" width="4.30" height="34.85" fill="#666666"/>
<line x1="433.50" y1="688.59" x2="433.50" y2="690.04" stroke="#777" stroke-width="0.6"/>
<line x1="432.00" y1="688.50" x2="434.40" y2="688.50" stroke="#777" stroke-width="0.6"/>
<rect x="431.10" y="690.04" width="4.20" height="36.66" fill="#000"/>
<line x1="440.50" y1="689.67" x2="440.50" y2="690.94" stroke="#0000ff" stroke-width="0.6"/>
<line x1="438.80" y1="689.50" x2="441.20" y2="689.50" stroke="#0000ff" stroke-width="0.6"/>
<rect x="437.90" y="690.94" width="4.20" height="35.76" fill="#0000ff"/>
<line x1="446.50" y1="689.31" x2="446.50" y2="691.85" stroke="#666" stroke-width="0.6"/>
<line x1="445.35" y1="689.50" x2="447.75" y2="689.50" stroke="#666" stroke-width="0.6"/>
<rect x="444.40" y="691.85" width="4.30" height="34.85" fill="#333333"/>
<line x1="453.50" y1="682.78" x2="453.50" y2="688.95" stroke="#ff0000" stroke-width="0.6"/>
<line x1="451.90" y1="682.50" x2="454.30" y2="682.50" stroke="#ff0000" stroke-width="0.6"/>
<rect x="451.00" y="688.95" width="4.20" height="37.75" fill="#ff0000"/>
<line x1="464.50" y1="688.59" x2="464.50" y2="690.40" stroke="#666666" stroke-width="0.6"/>
<line x1="462.85" y1="688.50" x2="465.25" y2="688.50" stroke="#666666" stroke-width="0.6"/>
<rect x="462.00" y="690.40" width="4.10" height="36.30" fill="#666666"/>
<line x1="470.50" y1="688.59" x2="470.50" y2="690.40" stroke="#777" stroke-width="0.6"/>
<line x1="469.20" y1="688.50" x2="471.60" y2="688.50" stroke="#777" stroke-width="0.6"/>
<rect x="468.30" y="690.40" width="4.20" height="36.30" fill="#000"/>
<line x1="477.50" y1="704.19" x2="477.50" y2="706.37" stroke="#0000ff" stroke-width="0.6"/>
<line x1="475.80" y1="704.50" x2="478.20" y2="704.50" stroke="#0000ff" stroke-width="0.6"/>
<rect x="474.90" y="706.37" width="4.20" height="20.33" fill="#0000ff"/>
<line x1="483.50" y1="688.59" x2="483.50" y2="690.40" stroke="#666" stroke-width="0.6"/>
<line x1="482.60" y1="688.50" x2="485.00" y2="688.50" stroke="#666" stroke-width="0.6"/>
<rect x="481.70" y="690.40" width="4.20" height="36.30" fill="#333333"/>
<line x1="490.50" y1="679.15" x2="490.50" y2="679.87" stroke="#ff0000" stroke-width="0.6"/>
<line x1="489.20" y1="679.50" x2="491.60" y2="679.50" stroke="#ff0000" stroke-width="0.6"/>
<rect x="488.30" y="679.87" width="4.20" height="46.83" fill="#ff0000"/>
<path d="M395.30,663.20 V660.50 H401.60 V663.20" fill="none" stroke="#000" stroke-width="0.8"/>
<text x="398.45" y="659.70" font-size="5.5" font-weight="bold" text-anchor="middle" fill="#000">*</text>
<path d="M409.00,684.10 V681.30 H415.50 V684.10" fill="none" stroke="#000" stroke-width="0.8"/>
<text x="412.25" y="680.50" font-size="5.5" font-weight="bold" text-anchor="middle" fill="#000">*</text>
<path d="M469.80,687.10 V685.20 H476.50 V687.10" fill="none" stroke="#000" stroke-width="0.8"/>
<text x="473.15" y="684.40" font-size="5.5" font-weight="bold" text-anchor="middle" fill="#000">**</text>
<path d="M483.30,677.40 V675.00 H489.90 V677.40" fill="none" stroke="#000" stroke-width="0.8"/>
<text x="486.60" y="674.20" font-size="5.5" font-weight="bold" text-anchor="middle" fill="#000">**</text>
<rect x="387.00" y="626.10" width="7.90" height="2.60" fill="#666666"/>
<text x="399.00" y="629.24" font-size="5.1" text-anchor="start" fill="#000">Control</text>
<rect x="387.00" y="632.10" width="7.90" height="2.60" fill="#000"/>
<text x="399.00" y="635.24" font-size="5.1" text-anchor="start" fill="#000">si-NC</text>
<rect x="387.00" y="638.60" width="7.90" height="2.60" fill="#0000ff"/>
<text x="399.00" y="641.74" font-size="5.1" text-anchor="start" fill="#000">si-circSEMA4B</text>
<rect x="387.00" y="644.20" width="7.90" height="2.60" fill="#333333"/>
<text x="399.00" y="647.34" font-size="5.1" text-anchor="start" fill="#000">LV-vector</text>
<rect x="387.00" y="650.50" width="7.90" height="2.60" fill="#ff0000"/>
<text x="399.00" y="653.64" font-size="5.1" text-anchor="start" fill="#000">LV-circSEMA4B</text>
<text x="402.50" y="736.30" font-size="5.5" font-weight="bold" text-anchor="middle" fill="#000">p-AKT(S473)</text>
<text x="439.30" y="736.30" font-size="5.5" font-weight="bold" text-anchor="middle" fill="#000">AKT</text>
<text x="476.70" y="736.30" font-size="5.5" font-weight="bold" text-anchor="middle" fill="#000">PDCD4</text>
<text x="440.00" y="745.30" font-size="6.1" font-weight="bold" text-anchor="middle" fill="#000">MDA-MB-231</text>
<text x="363.00" y="690.00" font-size="6.0" font-weight="bold" text-anchor="middle" fill="#000" transform="rotate(-90 363.00 690.00)">Relative expression of proteins</text>
<text x="369.20" y="690.00" font-size="6.2" font-weight="bold" text-anchor="middle" fill="#000" transform="rotate(-90 369.20 690.00)">(normalized to actin)</text>
<line x1="561.50" y1="652.30" x2="561.50" y2="724.30" stroke="#000" stroke-width="0.9"/>
<line x1="558.50" y1="724.50" x2="561.30" y2="724.50" stroke="#000" stroke-width="0.9"/>
<text x="557.30" y="726.57" font-size="6.3" text-anchor="end" fill="#000">0.0</text>
<line x1="558.50" y1="709.50" x2="561.30" y2="709.50" stroke="#000" stroke-width="0.9"/>
<text x="557.30" y="712.17" font-size="6.3" text-anchor="end" fill="#000">0.5</text>
<line x1="558.50" y1="695.50" x2="561.30" y2="695.50" stroke="#000" stroke-width="0.9"/>
<text x="557.30" y="697.77" font-size="6.3" text-anchor="end" fill="#000">1.0</text>
<line x1="558.50" y1="681.50" x2="561.30" y2="681.50" stroke="#000" stroke-width="0.9"/>
<text x="557.30" y="683.37" font-size="6.3" text-anchor="end" fill="#000">1.5</text>
<line x1="558.50" y1="666.50" x2="561.30" y2="666.50" stroke="#000" stroke-width="0.9"/>
<text x="557.30" y="668.97" font-size="6.3" text-anchor="end" fill="#000">2.0</text>
<line x1="558.50" y1="652.50" x2="561.30" y2="652.50" stroke="#000" stroke-width="0.9"/>
<text x="557.30" y="654.57" font-size="6.3" text-anchor="end" fill="#000">2.5</text>
<line x1="561.30" y1="724.50" x2="669.70" y2="724.50" stroke="#000" stroke-width="0.9"/>
<line x1="578.50" y1="724.30" x2="578.50" y2="726.80" stroke="#000" stroke-width="0.9"/>
<line x1="615.50" y1="724.30" x2="615.50" y2="726.80" stroke="#000" stroke-width="0.9"/>
<line x1="651.50" y1="724.30" x2="651.50" y2="726.80" stroke="#000" stroke-width="0.9"/>
<line x1="565.50" y1="690.60" x2="565.50" y2="695.50" stroke="#777" stroke-width="0.6"/>
<line x1="564.70" y1="690.50" x2="567.10" y2="690.50" stroke="#777" stroke-width="0.6"/>
<rect x="563.90" y="695.50" width="4.00" height="28.80" fill="#000"/>
<line x1="572.50" y1="658.92" x2="572.50" y2="659.50" stroke="#0000ff" stroke-width="0.6"/>
<line x1="570.90" y1="658.50" x2="573.30" y2="658.50" stroke="#0000ff" stroke-width="0.6"/>
<rect x="570.10" y="659.50" width="4.00" height="64.80" fill="#0000ff"/>
<line x1="578.50" y1="694.64" x2="578.50" y2="695.50" stroke="#666" stroke-width="0.6"/>
<line x1="577.40" y1="694.50" x2="579.80" y2="694.50" stroke="#666" stroke-width="0.6"/>
<rect x="576.60" y="695.50" width="4.00" height="28.80" fill="#333333"/>
<line x1="585.50" y1="701.55" x2="585.50" y2="702.70" stroke="#ff0000" stroke-width="0.6"/>
<line x1="583.80" y1="701.50" x2="586.20" y2="701.50" stroke="#ff0000" stroke-width="0.6"/>
<rect x="582.90" y="702.70" width="4.20" height="21.60" fill="#ff0000"/>
<line x1="591.50" y1="691.76" x2="591.50" y2="695.50" stroke="#666666" stroke-width="0.6"/>
<line x1="590.40" y1="691.50" x2="592.80" y2="691.50" stroke="#666666" stroke-width="0.6"/>
<rect x="589.50" y="695.50" width="4.20" height="28.80" fill="#666666"/>
<line x1="602.50" y1="694.92" x2="602.50" y2="695.50" stroke="#777" stroke-width="0.6"/>
<line x1="601.00" y1="694.50" x2="603.40" y2="694.50" stroke="#777" stroke-width="0.6"/>
<rect x="600.30" y="695.50" width="3.80" height="28.80" fill="#000"/>
<line x1="608.50" y1="694.92" x2="608.50" y2="695.50" stroke="#0000ff" stroke-width="0.6"/>
<line x1="607.65" y1="694.50" x2="610.05" y2="694.50" stroke="#0000ff" stroke-width="0.6"/>
<rect x="606.90" y="695.50" width="3.90" height="28.80" fill="#0000ff"/>
<line x1="615.50" y1="694.64" x2="615.50" y2="696.08" stroke="#666" stroke-width="0.6"/>
<line x1="613.85" y1="694.50" x2="616.25" y2="694.50" stroke="#666" stroke-width="0.6"/>
<rect x="613.10" y="696.08" width="3.90" height="28.22" fill="#333333"/>
<line x1="621.50" y1="695.50" x2="621.50" y2="695.79" stroke="#ff0000" stroke-width="0.6"/>
<line x1="620.50" y1="695.50" x2="622.90" y2="695.50" stroke="#ff0000" stroke-width="0.6"/>
<rect x="619.80" y="695.79" width="3.80" height="28.51" fill="#ff0000"/>
<line x1="628.50" y1="695.50" x2="628.50" y2="696.94" stroke="#666666" stroke-width="0.6"/>
<line x1="626.90" y1="695.50" x2="629.30" y2="695.50" stroke="#666666" stroke-width="0.6"/>
<rect x="626.20" y="696.94" width="3.80" height="27.36" fill="#666666"/>
<line x1="638.50" y1="694.92" x2="638.50" y2="697.23" stroke="#777" stroke-width="0.6"/>
<line x1="637.75" y1="694.50" x2="640.15" y2="694.50" stroke="#777" stroke-width="0.6"/>
<rect x="637.00" y="697.23" width="3.90" height="27.07" fill="#000"/>
<line x1="645.50" y1="701.55" x2="645.50" y2="702.99" stroke="#0000ff" stroke-width="0.6"/>
<line x1="644.20" y1="701.50" x2="646.60" y2="701.50" stroke="#0000ff" stroke-width="0.6"/>
<rect x="643.50" y="702.99" width="3.80" height="21.31" fill="#0000ff"/>
<line x1="652.50" y1="693.20" x2="652.50" y2="697.23" stroke="#666" stroke-width="0.6"/>
<line x1="650.85" y1="693.50" x2="653.25" y2="693.50" stroke="#666" stroke-width="0.6"/>
<rect x="650.10" y="697.23" width="3.90" height="27.07" fill="#333333"/>
<line x1="658.50" y1="684.84" x2="658.50" y2="686.00" stroke="#ff0000" stroke-width="0.6"/>
<line x1="657.25" y1="684.50" x2="659.65" y2="684.50" stroke="#ff0000" stroke-width="0.6"/>
<rect x="656.50" y="686.00" width="3.90" height="38.30" fill="#ff0000"/>
<line x1="665.50" y1="694.92" x2="665.50" y2="696.36" stroke="#666666" stroke-width="0.6"/>
<line x1="663.85" y1="694.50" x2="666.25" y2="694.50" stroke="#666666" stroke-width="0.6"/>
<rect x="663.30" y="696.36" width="3.50" height="27.94" fill="#666666"/>
<path d="M571.50,657.80 V655.80 H578.30 V657.80" fill="none" stroke="#000" stroke-width="0.8"/>
<text x="574.90" y="655.00" font-size="5.5" font-weight="bold" text-anchor="middle" fill="#000">***</text>
<path d="M585.20,691.70 V689.40 H592.00 V691.70" fill="none" stroke="#000" stroke-width="0.8"/>
<text x="588.60" y="688.60" font-size="5.5" font-weight="bold" text-anchor="middle" fill="#000">*</text>
<path d="M645.20,692.20 V690.40 H652.20 V692.20" fill="none" stroke="#000" stroke-width="0.8"/>
<text x="648.70" y="689.60" font-size="5.5" font-weight="bold" text-anchor="middle" fill="#000">*</text>
<path d="M658.40,682.40 V680.40 H665.10 V682.40" fill="none" stroke="#000" stroke-width="0.8"/>
<text x="661.75" y="679.60" font-size="5.5" font-weight="bold" text-anchor="middle" fill="#000">**</text>
<rect x="564.10" y="625.45" width="7.50" height="1.90" fill="#666666"/>
<text x="576.00" y="627.88" font-size="4.1" text-anchor="start" fill="#000">Control</text>
<rect x="564.10" y="631.05" width="7.50" height="1.90" fill="#000"/>
<text x="576.00" y="633.48" font-size="4.1" text-anchor="start" fill="#000">si-NC</text>
<rect x="564.10" y="636.35" width="7.50" height="1.90" fill="#0000ff"/>
<text x="576.00" y="638.78" font-size="4.1" text-anchor="start" fill="#000">si-circSEMA4B</text>
<rect x="564.10" y="641.85" width="7.50" height="1.90" fill="#333333"/>
<text x="576.00" y="644.28" font-size="4.1" text-anchor="start" fill="#000">LV-vector</text>
<rect x="564.10" y="647.05" width="7.50" height="1.90" fill="#ff0000"/>
<text x="576.00" y="649.48" font-size="4.1" text-anchor="start" fill="#000">LV-circSEMA4B</text>
<text x="578.60" y="734.20" font-size="6.0" text-anchor="middle" fill="#000">p-AKT(S473)</text>
<text x="615.40" y="734.20" font-size="6.0" text-anchor="middle" fill="#000">AKT</text>
<text x="651.90" y="734.20" font-size="6.0" text-anchor="middle" fill="#000">PDCD4</text>
<text x="615.40" y="743.00" font-size="6.6" text-anchor="middle" fill="#000">MCF-7</text>
<text x="538.80" y="689.00" font-size="6.45" text-anchor="middle" fill="#000" transform="rotate(-90 538.80 689.00)">Relative expression of proteins</text>
<text x="545.00" y="689.00" font-size="6.5" text-anchor="middle" fill="#000" transform="rotate(-90 545.00 689.00)">(normalized to actin)</text>
</svg></body></html>
